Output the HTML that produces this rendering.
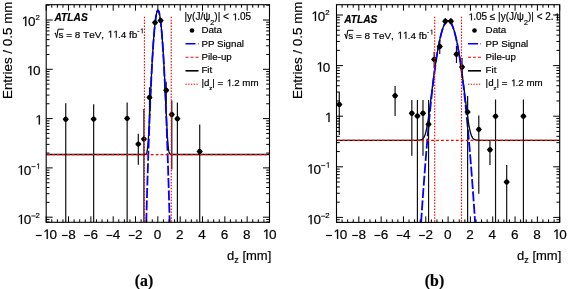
<!DOCTYPE html><html><head><meta charset="utf-8"><style>html,body{margin:0;padding:0;background:#fff;}svg{display:block;will-change:transform;} text{stroke:#000;stroke-width:0.18px;}</style></head><body>
<svg width="568" height="289" viewBox="0 0 568 289" font-family='"Liberation Sans", sans-serif' fill="#000">
<rect width="568" height="289" fill="#fff"/>
<defs><path id="mk" d="M-3.1 0L-1.4-2.2L0-2.75L1.4-2.2L3.1 0L1.4 2.2L0 2.75L-1.4 2.2Z"/></defs>
<clipPath id="cl"><rect x="46.2" y="4.7" width="223.3" height="217.60000000000002"/></clipPath>
<g clip-path="url(#cl)">
<path d="M46.20 154.50L46.34 154.50L46.48 154.50L46.62 154.50L46.76 154.50L46.90 154.50L47.04 154.50L47.18 154.50L47.32 154.50L47.46 154.50L47.60 154.50L47.74 154.50L47.87 154.50L48.01 154.50L48.15 154.50L48.29 154.50L48.43 154.50L48.57 154.50L48.71 154.50L48.85 154.50L48.99 154.50L49.13 154.50L49.27 154.50L49.41 154.50L49.55 154.50L49.69 154.50L49.83 154.50L49.97 154.50L50.11 154.50L50.25 154.50L50.39 154.50L50.53 154.50L50.67 154.50L50.81 154.50L50.95 154.50L51.08 154.50L51.22 154.50L51.36 154.50L51.50 154.50L51.64 154.50L51.78 154.50L51.92 154.50L52.06 154.50L52.20 154.50L52.34 154.50L52.48 154.50L52.62 154.50L52.76 154.50L52.90 154.50L53.04 154.50L53.18 154.50L53.32 154.50L53.46 154.50L53.60 154.50L53.74 154.50L53.88 154.50L54.02 154.50L54.16 154.50L54.29 154.50L54.43 154.50L54.57 154.50L54.71 154.50L54.85 154.50L54.99 154.50L55.13 154.50L55.27 154.50L55.41 154.50L55.55 154.50L55.69 154.50L55.83 154.50L55.97 154.50L56.11 154.50L56.25 154.50L56.39 154.50L56.53 154.50L56.67 154.50L56.81 154.50L56.95 154.50L57.09 154.50L57.23 154.50L57.37 154.50L57.50 154.50L57.64 154.50L57.78 154.50L57.92 154.50L58.06 154.50L58.20 154.50L58.34 154.50L58.48 154.50L58.62 154.50L58.76 154.50L58.90 154.50L59.04 154.50L59.18 154.50L59.32 154.50L59.46 154.50L59.60 154.50L59.74 154.50L59.88 154.50L60.02 154.50L60.16 154.50L60.30 154.50L60.44 154.50L60.57 154.50L60.71 154.50L60.85 154.50L60.99 154.50L61.13 154.50L61.27 154.50L61.41 154.50L61.55 154.50L61.69 154.50L61.83 154.50L61.97 154.50L62.11 154.50L62.25 154.50L62.39 154.50L62.53 154.50L62.67 154.50L62.81 154.50L62.95 154.50L63.09 154.50L63.23 154.50L63.37 154.50L63.51 154.50L63.65 154.50L63.78 154.50L63.92 154.50L64.06 154.50L64.20 154.50L64.34 154.50L64.48 154.50L64.62 154.50L64.76 154.50L64.90 154.50L65.04 154.50L65.18 154.50L65.32 154.50L65.46 154.50L65.60 154.50L65.74 154.50L65.88 154.50L66.02 154.50L66.16 154.50L66.30 154.50L66.44 154.50L66.58 154.50L66.72 154.50L66.86 154.50L66.99 154.50L67.13 154.50L67.27 154.50L67.41 154.50L67.55 154.50L67.69 154.50L67.83 154.50L67.97 154.50L68.11 154.50L68.25 154.50L68.39 154.50L68.53 154.50L68.67 154.50L68.81 154.50L68.95 154.50L69.09 154.50L69.23 154.50L69.37 154.50L69.51 154.50L69.65 154.50L69.79 154.50L69.93 154.50L70.07 154.50L70.20 154.50L70.34 154.50L70.48 154.50L70.62 154.50L70.76 154.50L70.90 154.50L71.04 154.50L71.18 154.50L71.32 154.50L71.46 154.50L71.60 154.50L71.74 154.50L71.88 154.50L72.02 154.50L72.16 154.50L72.30 154.50L72.44 154.50L72.58 154.50L72.72 154.50L72.86 154.50L73.00 154.50L73.14 154.50L73.28 154.50L73.41 154.50L73.55 154.50L73.69 154.50L73.83 154.50L73.97 154.50L74.11 154.50L74.25 154.50L74.39 154.50L74.53 154.50L74.67 154.50L74.81 154.50L74.95 154.50L75.09 154.50L75.23 154.50L75.37 154.50L75.51 154.50L75.65 154.50L75.79 154.50L75.93 154.50L76.07 154.50L76.21 154.50L76.35 154.50L76.49 154.50L76.62 154.50L76.76 154.50L76.90 154.50L77.04 154.50L77.18 154.50L77.32 154.50L77.46 154.50L77.60 154.50L77.74 154.50L77.88 154.50L78.02 154.50L78.16 154.50L78.30 154.50L78.44 154.50L78.58 154.50L78.72 154.50L78.86 154.50L79.00 154.50L79.14 154.50L79.28 154.50L79.42 154.50L79.56 154.50L79.70 154.50L79.83 154.50L79.97 154.50L80.11 154.50L80.25 154.50L80.39 154.50L80.53 154.50L80.67 154.50L80.81 154.50L80.95 154.50L81.09 154.50L81.23 154.50L81.37 154.50L81.51 154.50L81.65 154.50L81.79 154.50L81.93 154.50L82.07 154.50L82.21 154.50L82.35 154.50L82.49 154.50L82.63 154.50L82.77 154.50L82.90 154.50L83.04 154.50L83.18 154.50L83.32 154.50L83.46 154.50L83.60 154.50L83.74 154.50L83.88 154.50L84.02 154.50L84.16 154.50L84.30 154.50L84.44 154.50L84.58 154.50L84.72 154.50L84.86 154.50L85.00 154.50L85.14 154.50L85.28 154.50L85.42 154.50L85.56 154.50L85.70 154.50L85.84 154.50L85.98 154.50L86.11 154.50L86.25 154.50L86.39 154.50L86.53 154.50L86.67 154.50L86.81 154.50L86.95 154.50L87.09 154.50L87.23 154.50L87.37 154.50L87.51 154.50L87.65 154.50L87.79 154.50L87.93 154.50L88.07 154.50L88.21 154.50L88.35 154.50L88.49 154.50L88.63 154.50L88.77 154.50L88.91 154.50L89.05 154.50L89.19 154.50L89.32 154.50L89.46 154.50L89.60 154.50L89.74 154.50L89.88 154.50L90.02 154.50L90.16 154.50L90.30 154.50L90.44 154.50L90.58 154.50L90.72 154.50L90.86 154.50L91.00 154.50L91.14 154.50L91.28 154.50L91.42 154.50L91.56 154.50L91.70 154.50L91.84 154.50L91.98 154.50L92.12 154.50L92.26 154.50L92.40 154.50L92.53 154.50L92.67 154.50L92.81 154.50L92.95 154.50L93.09 154.50L93.23 154.50L93.37 154.50L93.51 154.50L93.65 154.50L93.79 154.50L93.93 154.50L94.07 154.50L94.21 154.50L94.35 154.50L94.49 154.50L94.63 154.50L94.77 154.50L94.91 154.50L95.05 154.50L95.19 154.50L95.33 154.50L95.47 154.50L95.61 154.50L95.74 154.50L95.88 154.50L96.02 154.50L96.16 154.50L96.30 154.50L96.44 154.50L96.58 154.50L96.72 154.50L96.86 154.50L97.00 154.50L97.14 154.50L97.28 154.50L97.42 154.50L97.56 154.50L97.70 154.50L97.84 154.50L97.98 154.50L98.12 154.50L98.26 154.50L98.40 154.50L98.54 154.50L98.68 154.50L98.82 154.50L98.95 154.50L99.09 154.50L99.23 154.50L99.37 154.50L99.51 154.50L99.65 154.50L99.79 154.50L99.93 154.50L100.07 154.50L100.21 154.50L100.35 154.50L100.49 154.50L100.63 154.50L100.77 154.50L100.91 154.50L101.05 154.50L101.19 154.50L101.33 154.50L101.47 154.50L101.61 154.50L101.75 154.50L101.89 154.50L102.03 154.50L102.16 154.50L102.30 154.50L102.44 154.50L102.58 154.50L102.72 154.50L102.86 154.50L103.00 154.50L103.14 154.50L103.28 154.50L103.42 154.50L103.56 154.50L103.70 154.50L103.84 154.50L103.98 154.50L104.12 154.50L104.26 154.50L104.40 154.50L104.54 154.50L104.68 154.50L104.82 154.50L104.96 154.50L105.10 154.50L105.23 154.50L105.37 154.50L105.51 154.50L105.65 154.50L105.79 154.50L105.93 154.50L106.07 154.50L106.21 154.50L106.35 154.50L106.49 154.50L106.63 154.50L106.77 154.50L106.91 154.50L107.05 154.50L107.19 154.50L107.33 154.50L107.47 154.50L107.61 154.50L107.75 154.50L107.89 154.50L108.03 154.50L108.17 154.50L108.31 154.50L108.44 154.50L108.58 154.50L108.72 154.50L108.86 154.50L109.00 154.50L109.14 154.50L109.28 154.50L109.42 154.50L109.56 154.50L109.70 154.50L109.84 154.50L109.98 154.50L110.12 154.50L110.26 154.50L110.40 154.50L110.54 154.50L110.68 154.50L110.82 154.50L110.96 154.50L111.10 154.50L111.24 154.50L111.38 154.50L111.52 154.50L111.65 154.50L111.79 154.50L111.93 154.50L112.07 154.50L112.21 154.50L112.35 154.50L112.49 154.50L112.63 154.50L112.77 154.50L112.91 154.50L113.05 154.50L113.19 154.50L113.33 154.50L113.47 154.50L113.61 154.50L113.75 154.50L113.89 154.50L114.03 154.50L114.17 154.50L114.31 154.50L114.45 154.50L114.59 154.50L114.73 154.50L114.86 154.50L115.00 154.50L115.14 154.50L115.28 154.50L115.42 154.50L115.56 154.50L115.70 154.50L115.84 154.50L115.98 154.50L116.12 154.50L116.26 154.50L116.40 154.50L116.54 154.50L116.68 154.50L116.82 154.50L116.96 154.50L117.10 154.50L117.24 154.50L117.38 154.50L117.52 154.50L117.66 154.50L117.80 154.50L117.94 154.50L118.07 154.50L118.21 154.50L118.35 154.50L118.49 154.50L118.63 154.50L118.77 154.50L118.91 154.50L119.05 154.50L119.19 154.50L119.33 154.50L119.47 154.50L119.61 154.50L119.75 154.50L119.89 154.50L120.03 154.50L120.17 154.50L120.31 154.50L120.45 154.50L120.59 154.50L120.73 154.50L120.87 154.50L121.01 154.50L121.15 154.50L121.28 154.50L121.42 154.50L121.56 154.50L121.70 154.50L121.84 154.50L121.98 154.50L122.12 154.50L122.26 154.50L122.40 154.50L122.54 154.50L122.68 154.50L122.82 154.50L122.96 154.50L123.10 154.50L123.24 154.50L123.38 154.50L123.52 154.50L123.66 154.50L123.80 154.50L123.94 154.50L124.08 154.50L124.22 154.50L124.36 154.50L124.49 154.50L124.63 154.50L124.77 154.50L124.91 154.50L125.05 154.50L125.19 154.50L125.33 154.50L125.47 154.50L125.61 154.50L125.75 154.50L125.89 154.50L126.03 154.50L126.17 154.50L126.31 154.50L126.45 154.50L126.59 154.50L126.73 154.50L126.87 154.50L127.01 154.50L127.15 154.50L127.29 154.50L127.43 154.50L127.56 154.50L127.70 154.50L127.84 154.50L127.98 154.50L128.12 154.50L128.26 154.50L128.40 154.50L128.54 154.50L128.68 154.50L128.82 154.50L128.96 154.50L129.10 154.50L129.24 154.50L129.38 154.50L129.52 154.50L129.66 154.50L129.80 154.50L129.94 154.50L130.08 154.50L130.22 154.50L130.36 154.50L130.50 154.50L130.64 154.50L130.77 154.50L130.91 154.50L131.05 154.50L131.19 154.50L131.33 154.50L131.47 154.50L131.61 154.50L131.75 154.50L131.89 154.50L132.03 154.50L132.17 154.50L132.31 154.50L132.45 154.50L132.59 154.50L132.73 154.50L132.87 154.50L133.01 154.50L133.15 154.50L133.29 154.50L133.43 154.50L133.57 154.50L133.71 154.50L133.85 154.50L133.98 154.50L134.12 154.50L134.26 154.50L134.40 154.50L134.54 154.50L134.68 154.50L134.82 154.50L134.96 154.50L135.10 154.50L135.24 154.50L135.38 154.50L135.52 154.50L135.66 154.50L135.80 154.50L135.94 154.50L136.08 154.50L136.22 154.50L136.36 154.50L136.50 154.50L136.64 154.50L136.78 154.50L136.92 154.50L137.06 154.50L137.19 154.50L137.33 154.50L137.47 154.50L137.61 154.50L137.75 154.50L137.89 154.50L138.03 154.50L138.17 154.50L138.31 154.50L138.45 154.50L138.59 154.50L138.73 154.50L138.87 154.50L139.01 154.50L139.15 154.50L139.29 154.50L139.43 154.50L139.57 154.50L139.71 154.50L139.85 154.50L139.99 154.50L140.13 154.50L140.27 154.50L140.40 154.50L140.54 154.50L140.68 154.50L140.82 154.50L140.96 154.50L141.10 154.50L141.24 154.50L141.38 154.50L141.52 154.50L141.66 154.50L141.80 154.50L141.94 154.50L142.08 154.50L142.22 154.50L142.36 154.50L142.50 154.50L142.64 154.50L142.78 154.50L142.92 154.50L143.06 154.50L143.20 154.50L143.34 154.49L143.48 154.49L143.61 154.49L143.75 154.49L143.89 154.49L144.03 154.48L144.17 154.48L144.31 154.47L144.45 154.46L144.59 154.45L144.73 154.44L144.87 154.42L145.01 154.40L145.15 154.37L145.29 154.33L145.43 154.28L145.57 154.22L145.71 154.14L145.85 154.04L145.99 153.92L146.13 153.77L146.27 153.58L146.41 153.34L146.55 153.05L146.69 152.69L146.82 152.26L146.96 151.74L147.10 151.11L147.24 150.37L147.38 149.49L147.52 148.46L147.66 147.28L147.80 145.92L147.94 144.39L148.08 142.67L148.22 140.78L148.36 138.71L148.50 136.47L148.64 134.08L148.78 131.54L148.92 128.88L149.06 126.12L149.20 123.26L149.34 120.33L149.48 117.35L149.62 114.32L149.76 111.27L149.89 108.20L150.03 105.12L150.17 102.06L150.31 99.00L150.45 95.97L150.59 92.96L150.73 89.99L150.87 87.05L151.01 84.15L151.15 81.29L151.29 78.48L151.43 75.71L151.57 73.00L151.71 70.33L151.85 67.72L151.99 65.16L152.13 62.66L152.27 60.21L152.41 57.82L152.55 55.48L152.69 53.20L152.83 50.98L152.97 48.82L153.10 46.71L153.24 44.66L153.38 42.67L153.52 40.74L153.66 38.87L153.80 37.06L153.94 35.31L154.08 33.61L154.22 31.98L154.36 30.40L154.50 28.89L154.64 27.43L154.78 26.04L154.92 24.70L155.06 23.43L155.20 22.21L155.34 21.05L155.48 19.95L155.62 18.92L155.76 17.94L155.90 17.02L156.04 16.16L156.18 15.37L156.31 14.63L156.45 13.95L156.59 13.33L156.73 12.78L156.87 12.28L157.01 11.84L157.15 11.46L157.29 11.14L157.43 10.89L157.57 10.69L157.71 10.55L157.85 10.47L157.99 10.45L158.13 10.50L158.27 10.60L158.41 10.76L158.55 10.98L158.69 11.26L158.83 11.61L158.97 12.01L159.11 12.47L159.25 12.99L159.39 13.57L159.52 14.22L159.66 14.92L159.80 15.68L159.94 16.50L160.08 17.38L160.22 18.32L160.36 19.33L160.50 20.39L160.64 21.51L160.78 22.69L160.92 23.93L161.06 25.23L161.20 26.59L161.34 28.01L161.48 29.49L161.62 31.03L161.76 32.63L161.90 34.28L162.04 36.00L162.18 37.78L162.32 39.61L162.46 41.51L162.60 43.46L162.73 45.47L162.87 47.55L163.01 49.67L163.15 51.86L163.29 54.11L163.43 56.41L163.57 58.77L163.71 61.18L163.85 63.65L163.99 66.18L164.13 68.76L164.27 71.39L164.41 74.08L164.55 76.81L164.69 79.60L164.83 82.43L164.97 85.30L165.11 88.22L165.25 91.17L165.39 94.16L165.53 97.18L165.67 100.22L165.81 103.28L165.94 106.35L166.08 109.43L166.22 112.49L166.36 115.53L166.50 118.55L166.64 121.51L166.78 124.41L166.92 127.23L167.06 129.96L167.20 132.57L167.34 135.05L167.48 137.38L167.62 139.56L167.76 141.56L167.90 143.38L168.04 145.02L168.18 146.48L168.32 147.77L168.46 148.89L168.60 149.86L168.74 150.68L168.88 151.38L169.02 151.96L169.15 152.44L169.29 152.84L169.43 153.17L169.57 153.44L169.71 153.66L169.85 153.83L169.99 153.97L170.13 154.09L170.27 154.17L170.41 154.25L170.55 154.30L170.69 154.35L170.83 154.38L170.97 154.41L171.11 154.43L171.25 154.44L171.39 154.46L171.53 154.47L171.67 154.47L171.81 154.48L171.95 154.48L172.09 154.49L172.22 154.49L172.36 154.49L172.50 154.49L172.64 154.49L172.78 154.50L172.92 154.50L173.06 154.50L173.20 154.50L173.34 154.50L173.48 154.50L173.62 154.50L173.76 154.50L173.90 154.50L174.04 154.50L174.18 154.50L174.32 154.50L174.46 154.50L174.60 154.50L174.74 154.50L174.88 154.50L175.02 154.50L175.16 154.50L175.30 154.50L175.43 154.50L175.57 154.50L175.71 154.50L175.85 154.50L175.99 154.50L176.13 154.50L176.27 154.50L176.41 154.50L176.55 154.50L176.69 154.50L176.83 154.50L176.97 154.50L177.11 154.50L177.25 154.50L177.39 154.50L177.53 154.50L177.67 154.50L177.81 154.50L177.95 154.50L178.09 154.50L178.23 154.50L178.37 154.50L178.51 154.50L178.64 154.50L178.78 154.50L178.92 154.50L179.06 154.50L179.20 154.50L179.34 154.50L179.48 154.50L179.62 154.50L179.76 154.50L179.90 154.50L180.04 154.50L180.18 154.50L180.32 154.50L180.46 154.50L180.60 154.50L180.74 154.50L180.88 154.50L181.02 154.50L181.16 154.50L181.30 154.50L181.44 154.50L181.58 154.50L181.72 154.50L181.85 154.50L181.99 154.50L182.13 154.50L182.27 154.50L182.41 154.50L182.55 154.50L182.69 154.50L182.83 154.50L182.97 154.50L183.11 154.50L183.25 154.50L183.39 154.50L183.53 154.50L183.67 154.50L183.81 154.50L183.95 154.50L184.09 154.50L184.23 154.50L184.37 154.50L184.51 154.50L184.65 154.50L184.79 154.50L184.93 154.50L185.06 154.50L185.20 154.50L185.34 154.50L185.48 154.50L185.62 154.50L185.76 154.50L185.90 154.50L186.04 154.50L186.18 154.50L186.32 154.50L186.46 154.50L186.60 154.50L186.74 154.50L186.88 154.50L187.02 154.50L187.16 154.50L187.30 154.50L187.44 154.50L187.58 154.50L187.72 154.50L187.86 154.50L188.00 154.50L188.14 154.50L188.27 154.50L188.41 154.50L188.55 154.50L188.69 154.50L188.83 154.50L188.97 154.50L189.11 154.50L189.25 154.50L189.39 154.50L189.53 154.50L189.67 154.50L189.81 154.50L189.95 154.50L190.09 154.50L190.23 154.50L190.37 154.50L190.51 154.50L190.65 154.50L190.79 154.50L190.93 154.50L191.07 154.50L191.21 154.50L191.35 154.50L191.48 154.50L191.62 154.50L191.76 154.50L191.90 154.50L192.04 154.50L192.18 154.50L192.32 154.50L192.46 154.50L192.60 154.50L192.74 154.50L192.88 154.50L193.02 154.50L193.16 154.50L193.30 154.50L193.44 154.50L193.58 154.50L193.72 154.50L193.86 154.50L194.00 154.50L194.14 154.50L194.28 154.50L194.42 154.50L194.55 154.50L194.69 154.50L194.83 154.50L194.97 154.50L195.11 154.50L195.25 154.50L195.39 154.50L195.53 154.50L195.67 154.50L195.81 154.50L195.95 154.50L196.09 154.50L196.23 154.50L196.37 154.50L196.51 154.50L196.65 154.50L196.79 154.50L196.93 154.50L197.07 154.50L197.21 154.50L197.35 154.50L197.49 154.50L197.63 154.50L197.76 154.50L197.90 154.50L198.04 154.50L198.18 154.50L198.32 154.50L198.46 154.50L198.60 154.50L198.74 154.50L198.88 154.50L199.02 154.50L199.16 154.50L199.30 154.50L199.44 154.50L199.58 154.50L199.72 154.50L199.86 154.50L200.00 154.50L200.14 154.50L200.28 154.50L200.42 154.50L200.56 154.50L200.70 154.50L200.84 154.50L200.97 154.50L201.11 154.50L201.25 154.50L201.39 154.50L201.53 154.50L201.67 154.50L201.81 154.50L201.95 154.50L202.09 154.50L202.23 154.50L202.37 154.50L202.51 154.50L202.65 154.50L202.79 154.50L202.93 154.50L203.07 154.50L203.21 154.50L203.35 154.50L203.49 154.50L203.63 154.50L203.77 154.50L203.91 154.50L204.05 154.50L204.18 154.50L204.32 154.50L204.46 154.50L204.60 154.50L204.74 154.50L204.88 154.50L205.02 154.50L205.16 154.50L205.30 154.50L205.44 154.50L205.58 154.50L205.72 154.50L205.86 154.50L206.00 154.50L206.14 154.50L206.28 154.50L206.42 154.50L206.56 154.50L206.70 154.50L206.84 154.50L206.98 154.50L207.12 154.50L207.26 154.50L207.39 154.50L207.53 154.50L207.67 154.50L207.81 154.50L207.95 154.50L208.09 154.50L208.23 154.50L208.37 154.50L208.51 154.50L208.65 154.50L208.79 154.50L208.93 154.50L209.07 154.50L209.21 154.50L209.35 154.50L209.49 154.50L209.63 154.50L209.77 154.50L209.91 154.50L210.05 154.50L210.19 154.50L210.33 154.50L210.47 154.50L210.60 154.50L210.74 154.50L210.88 154.50L211.02 154.50L211.16 154.50L211.30 154.50L211.44 154.50L211.58 154.50L211.72 154.50L211.86 154.50L212.00 154.50L212.14 154.50L212.28 154.50L212.42 154.50L212.56 154.50L212.70 154.50L212.84 154.50L212.98 154.50L213.12 154.50L213.26 154.50L213.40 154.50L213.54 154.50L213.68 154.50L213.81 154.50L213.95 154.50L214.09 154.50L214.23 154.50L214.37 154.50L214.51 154.50L214.65 154.50L214.79 154.50L214.93 154.50L215.07 154.50L215.21 154.50L215.35 154.50L215.49 154.50L215.63 154.50L215.77 154.50L215.91 154.50L216.05 154.50L216.19 154.50L216.33 154.50L216.47 154.50L216.61 154.50L216.75 154.50L216.88 154.50L217.02 154.50L217.16 154.50L217.30 154.50L217.44 154.50L217.58 154.50L217.72 154.50L217.86 154.50L218.00 154.50L218.14 154.50L218.28 154.50L218.42 154.50L218.56 154.50L218.70 154.50L218.84 154.50L218.98 154.50L219.12 154.50L219.26 154.50L219.40 154.50L219.54 154.50L219.68 154.50L219.82 154.50L219.96 154.50L220.09 154.50L220.23 154.50L220.37 154.50L220.51 154.50L220.65 154.50L220.79 154.50L220.93 154.50L221.07 154.50L221.21 154.50L221.35 154.50L221.49 154.50L221.63 154.50L221.77 154.50L221.91 154.50L222.05 154.50L222.19 154.50L222.33 154.50L222.47 154.50L222.61 154.50L222.75 154.50L222.89 154.50L223.03 154.50L223.17 154.50L223.30 154.50L223.44 154.50L223.58 154.50L223.72 154.50L223.86 154.50L224.00 154.50L224.14 154.50L224.28 154.50L224.42 154.50L224.56 154.50L224.70 154.50L224.84 154.50L224.98 154.50L225.12 154.50L225.26 154.50L225.40 154.50L225.54 154.50L225.68 154.50L225.82 154.50L225.96 154.50L226.10 154.50L226.24 154.50L226.38 154.50L226.51 154.50L226.65 154.50L226.79 154.50L226.93 154.50L227.07 154.50L227.21 154.50L227.35 154.50L227.49 154.50L227.63 154.50L227.77 154.50L227.91 154.50L228.05 154.50L228.19 154.50L228.33 154.50L228.47 154.50L228.61 154.50L228.75 154.50L228.89 154.50L229.03 154.50L229.17 154.50L229.31 154.50L229.45 154.50L229.59 154.50L229.72 154.50L229.86 154.50L230.00 154.50L230.14 154.50L230.28 154.50L230.42 154.50L230.56 154.50L230.70 154.50L230.84 154.50L230.98 154.50L231.12 154.50L231.26 154.50L231.40 154.50L231.54 154.50L231.68 154.50L231.82 154.50L231.96 154.50L232.10 154.50L232.24 154.50L232.38 154.50L232.52 154.50L232.66 154.50L232.80 154.50L232.93 154.50L233.07 154.50L233.21 154.50L233.35 154.50L233.49 154.50L233.63 154.50L233.77 154.50L233.91 154.50L234.05 154.50L234.19 154.50L234.33 154.50L234.47 154.50L234.61 154.50L234.75 154.50L234.89 154.50L235.03 154.50L235.17 154.50L235.31 154.50L235.45 154.50L235.59 154.50L235.73 154.50L235.87 154.50L236.00 154.50L236.14 154.50L236.28 154.50L236.42 154.50L236.56 154.50L236.70 154.50L236.84 154.50L236.98 154.50L237.12 154.50L237.26 154.50L237.40 154.50L237.54 154.50L237.68 154.50L237.82 154.50L237.96 154.50L238.10 154.50L238.24 154.50L238.38 154.50L238.52 154.50L238.66 154.50L238.80 154.50L238.94 154.50L239.08 154.50L239.21 154.50L239.35 154.50L239.49 154.50L239.63 154.50L239.77 154.50L239.91 154.50L240.05 154.50L240.19 154.50L240.33 154.50L240.47 154.50L240.61 154.50L240.75 154.50L240.89 154.50L241.03 154.50L241.17 154.50L241.31 154.50L241.45 154.50L241.59 154.50L241.73 154.50L241.87 154.50L242.01 154.50L242.15 154.50L242.29 154.50L242.42 154.50L242.56 154.50L242.70 154.50L242.84 154.50L242.98 154.50L243.12 154.50L243.26 154.50L243.40 154.50L243.54 154.50L243.68 154.50L243.82 154.50L243.96 154.50L244.10 154.50L244.24 154.50L244.38 154.50L244.52 154.50L244.66 154.50L244.80 154.50L244.94 154.50L245.08 154.50L245.22 154.50L245.36 154.50L245.50 154.50L245.63 154.50L245.77 154.50L245.91 154.50L246.05 154.50L246.19 154.50L246.33 154.50L246.47 154.50L246.61 154.50L246.75 154.50L246.89 154.50L247.03 154.50L247.17 154.50L247.31 154.50L247.45 154.50L247.59 154.50L247.73 154.50L247.87 154.50L248.01 154.50L248.15 154.50L248.29 154.50L248.43 154.50L248.57 154.50L248.71 154.50L248.84 154.50L248.98 154.50L249.12 154.50L249.26 154.50L249.40 154.50L249.54 154.50L249.68 154.50L249.82 154.50L249.96 154.50L250.10 154.50L250.24 154.50L250.38 154.50L250.52 154.50L250.66 154.50L250.80 154.50L250.94 154.50L251.08 154.50L251.22 154.50L251.36 154.50L251.50 154.50L251.64 154.50L251.78 154.50L251.92 154.50L252.05 154.50L252.19 154.50L252.33 154.50L252.47 154.50L252.61 154.50L252.75 154.50L252.89 154.50L253.03 154.50L253.17 154.50L253.31 154.50L253.45 154.50L253.59 154.50L253.73 154.50L253.87 154.50L254.01 154.50L254.15 154.50L254.29 154.50L254.43 154.50L254.57 154.50L254.71 154.50L254.85 154.50L254.99 154.50L255.13 154.50L255.26 154.50L255.40 154.50L255.54 154.50L255.68 154.50L255.82 154.50L255.96 154.50L256.10 154.50L256.24 154.50L256.38 154.50L256.52 154.50L256.66 154.50L256.80 154.50L256.94 154.50L257.08 154.50L257.22 154.50L257.36 154.50L257.50 154.50L257.64 154.50L257.78 154.50L257.92 154.50L258.06 154.50L258.20 154.50L258.33 154.50L258.47 154.50L258.61 154.50L258.75 154.50L258.89 154.50L259.03 154.50L259.17 154.50L259.31 154.50L259.45 154.50L259.59 154.50L259.73 154.50L259.87 154.50L260.01 154.50L260.15 154.50L260.29 154.50L260.43 154.50L260.57 154.50L260.71 154.50L260.85 154.50L260.99 154.50L261.13 154.50L261.27 154.50L261.41 154.50L261.54 154.50L261.68 154.50L261.82 154.50L261.96 154.50L262.10 154.50L262.24 154.50L262.38 154.50L262.52 154.50L262.66 154.50L262.80 154.50L262.94 154.50L263.08 154.50L263.22 154.50L263.36 154.50L263.50 154.50L263.64 154.50L263.78 154.50L263.92 154.50L264.06 154.50L264.20 154.50L264.34 154.50L264.48 154.50L264.62 154.50L264.75 154.50L264.89 154.50L265.03 154.50L265.17 154.50L265.31 154.50L265.45 154.50L265.59 154.50L265.73 154.50L265.87 154.50L266.01 154.50L266.15 154.50L266.29 154.50L266.43 154.50L266.57 154.50L266.71 154.50L266.85 154.50L266.99 154.50L267.13 154.50L267.27 154.50L267.41 154.50L267.55 154.50L267.69 154.50L267.83 154.50L267.96 154.50L268.10 154.50L268.24 154.50L268.38 154.50L268.52 154.50L268.66 154.50L268.80 154.50L268.94 154.50L269.08 154.50L269.22 154.50L269.36 154.50L269.50 154.50" stroke="#000" stroke-width="1.3" fill="none"/>
<path d="M145.85 225.30L145.99 225.30L146.13 225.30L146.27 221.38L146.41 216.38L146.55 211.44L146.69 206.55L146.82 201.73L146.96 196.97L147.10 192.26L147.24 187.62L147.38 183.04L147.52 178.51L147.66 174.05L147.80 169.65L147.94 165.31L148.08 161.02L148.22 156.80L148.36 152.64L148.50 148.54L148.64 144.49L148.78 140.51L148.92 136.59L149.06 132.73L149.20 128.92L149.34 125.18L149.48 121.50L149.62 117.88L149.76 114.32L149.89 110.81L150.03 107.37L150.17 103.99L150.31 100.67L150.45 97.41L150.59 94.21L150.73 91.06L150.87 87.98L151.01 84.96L151.15 82.00L151.29 79.10L151.43 76.26L151.57 73.48L151.71 70.76L151.85 68.10L151.99 65.49L152.13 62.95L152.27 60.47L152.41 58.05L152.55 55.69L152.69 53.39L152.83 51.15L152.97 48.97L153.10 46.85L153.24 44.79L153.38 42.79L153.52 40.85L153.66 38.97L153.80 37.15L153.94 35.39L154.08 33.69L154.22 32.05L154.36 30.47L154.50 28.95L154.64 27.49L154.78 26.09L154.92 24.75L155.06 23.47L155.20 22.25L155.34 21.09L155.48 19.99L155.62 18.96L155.76 17.98L155.90 17.06L156.04 16.20L156.18 15.40L156.31 14.66L156.45 13.98L156.59 13.36L156.73 12.80L156.87 12.31L157.01 11.87L157.15 11.49L157.29 11.17L157.43 10.91L157.57 10.71L157.71 10.58L157.85 10.50L157.99 10.48" stroke="#0000ff" stroke-width="1.8" fill="none" stroke-dasharray="10 2.4" stroke-dashoffset="9.60"/>
<path d="M157.99 10.48L158.13 10.52L158.27 10.62L158.41 10.79L158.55 11.01L158.69 11.29L158.83 11.63L158.97 12.04L159.11 12.50L159.25 13.02L159.39 13.60L159.52 14.25L159.66 14.95L159.80 15.71L159.94 16.53L160.08 17.42L160.22 18.36L160.36 19.36L160.50 20.43L160.64 21.55L160.78 22.73L160.92 23.98L161.06 25.28L161.20 26.64L161.34 28.07L161.48 29.55L161.62 31.09L161.76 32.70L161.90 34.36L162.04 36.09L162.18 37.87L162.32 39.71L162.46 41.62L162.60 43.58L162.73 45.61L162.87 47.69L163.01 49.84L163.15 52.04L163.29 54.30L163.43 56.63L163.57 59.01L163.71 61.46L163.85 63.96L163.99 66.53L164.13 69.15L164.27 71.84L164.41 74.58L164.55 77.39L164.69 80.25L164.83 83.18L164.97 86.16L165.11 89.21L165.25 92.31L165.39 95.48L165.53 98.70L165.67 101.99L165.81 105.34L165.94 108.74L166.08 112.21L166.22 115.73L166.36 119.32L166.50 122.97L166.64 126.67L166.78 130.44L166.92 134.26L167.06 138.15L167.20 142.10L167.34 146.10L167.48 150.17L167.62 154.30L167.76 158.48L167.90 162.73L168.04 167.04L168.18 171.40L168.32 175.83L168.46 180.32L168.60 184.86L168.74 189.47L168.88 194.14L169.02 198.86L169.15 203.65L169.29 208.50L169.43 213.41L169.57 218.37L169.71 223.40L169.85 225.30L169.99 225.30" stroke="#0000ff" stroke-width="1.8" fill="none" stroke-dasharray="10 2.4" stroke-dashoffset="5.35"/>
<path d="M65.74 103.30V222.30M93.65 104.20V222.30M127.15 102.50V222.30M138.31 133.80V164.80M143.89 109.00V222.30M149.48 87.30V116.00M155.06 20.40V25.00M160.64 18.50V22.90M166.22 81.80V104.00M171.81 100.50V169.50M177.39 102.50V222.30M199.72 124.60V222.30" stroke="#111" stroke-width="1.2" fill="none"/>
<g fill="#000"><use href="#mk" x="65.74" y="119.30"/><use href="#mk" x="93.65" y="119.10"/><use href="#mk" x="127.15" y="118.40"/><use href="#mk" x="138.31" y="144.10"/><use href="#mk" x="143.89" y="139.10"/><use href="#mk" x="149.48" y="97.40"/><use href="#mk" x="155.06" y="22.60"/><use href="#mk" x="160.64" y="20.60"/><use href="#mk" x="166.22" y="90.20"/><use href="#mk" x="171.81" y="114.50"/><use href="#mk" x="177.39" y="118.70"/><use href="#mk" x="199.72" y="151.50"/></g>
<path d="M46.2 154.50H269.5" stroke="#ff0000" stroke-width="1.25" fill="none" stroke-dasharray="2.8 2.13" stroke-dashoffset="-1"/>
<path d="M144.45 16V222.3" stroke="#ff0000" stroke-width="1.15" fill="none" stroke-dasharray="1.5 1.45" stroke-dashoffset="-0.7"/>
<path d="M171.25 16V222.3" stroke="#ff0000" stroke-width="1.15" fill="none" stroke-dasharray="1.5 1.45" stroke-dashoffset="-0.7"/>
</g>
<clipPath id="cr"><rect x="336.5" y="4.7" width="223.20000000000005" height="217.70000000000002"/></clipPath>
<g clip-path="url(#cr)">
<path d="M336.50 140.30L336.64 140.30L336.78 140.30L336.92 140.30L337.06 140.30L337.20 140.30L337.34 140.30L337.48 140.30L337.62 140.30L337.76 140.30L337.89 140.30L338.03 140.30L338.17 140.30L338.31 140.30L338.45 140.30L338.59 140.30L338.73 140.30L338.87 140.30L339.01 140.30L339.15 140.30L339.29 140.30L339.43 140.30L339.57 140.30L339.71 140.30L339.85 140.30L339.99 140.30L340.13 140.30L340.27 140.30L340.41 140.30L340.55 140.30L340.69 140.30L340.82 140.30L340.96 140.30L341.10 140.30L341.24 140.30L341.38 140.30L341.52 140.30L341.66 140.30L341.80 140.30L341.94 140.30L342.08 140.30L342.22 140.30L342.36 140.30L342.50 140.30L342.64 140.30L342.78 140.30L342.92 140.30L343.06 140.30L343.20 140.30L343.34 140.30L343.48 140.30L343.61 140.30L343.75 140.30L343.89 140.30L344.03 140.30L344.17 140.30L344.31 140.30L344.45 140.30L344.59 140.30L344.73 140.30L344.87 140.30L345.01 140.30L345.15 140.30L345.29 140.30L345.43 140.30L345.57 140.30L345.71 140.30L345.85 140.30L345.99 140.30L346.13 140.30L346.26 140.30L346.40 140.30L346.54 140.30L346.68 140.30L346.82 140.30L346.96 140.30L347.10 140.30L347.24 140.30L347.38 140.30L347.52 140.30L347.66 140.30L347.80 140.30L347.94 140.30L348.08 140.30L348.22 140.30L348.36 140.30L348.50 140.30L348.64 140.30L348.78 140.30L348.92 140.30L349.06 140.30L349.19 140.30L349.33 140.30L349.47 140.30L349.61 140.30L349.75 140.30L349.89 140.30L350.03 140.30L350.17 140.30L350.31 140.30L350.45 140.30L350.59 140.30L350.73 140.30L350.87 140.30L351.01 140.30L351.15 140.30L351.29 140.30L351.43 140.30L351.57 140.30L351.71 140.30L351.85 140.30L351.98 140.30L352.12 140.30L352.26 140.30L352.40 140.30L352.54 140.30L352.68 140.30L352.82 140.30L352.96 140.30L353.10 140.30L353.24 140.30L353.38 140.30L353.52 140.30L353.66 140.30L353.80 140.30L353.94 140.30L354.08 140.30L354.22 140.30L354.36 140.30L354.50 140.30L354.63 140.30L354.77 140.30L354.91 140.30L355.05 140.30L355.19 140.30L355.33 140.30L355.47 140.30L355.61 140.30L355.75 140.30L355.89 140.30L356.03 140.30L356.17 140.30L356.31 140.30L356.45 140.30L356.59 140.30L356.73 140.30L356.87 140.30L357.01 140.30L357.15 140.30L357.29 140.30L357.43 140.30L357.56 140.30L357.70 140.30L357.84 140.30L357.98 140.30L358.12 140.30L358.26 140.30L358.40 140.30L358.54 140.30L358.68 140.30L358.82 140.30L358.96 140.30L359.10 140.30L359.24 140.30L359.38 140.30L359.52 140.30L359.66 140.30L359.80 140.30L359.94 140.30L360.08 140.30L360.22 140.30L360.35 140.30L360.49 140.30L360.63 140.30L360.77 140.30L360.91 140.30L361.05 140.30L361.19 140.30L361.33 140.30L361.47 140.30L361.61 140.30L361.75 140.30L361.89 140.30L362.03 140.30L362.17 140.30L362.31 140.30L362.45 140.30L362.59 140.30L362.73 140.30L362.87 140.30L363.00 140.30L363.14 140.30L363.28 140.30L363.42 140.30L363.56 140.30L363.70 140.30L363.84 140.30L363.98 140.30L364.12 140.30L364.26 140.30L364.40 140.30L364.54 140.30L364.68 140.30L364.82 140.30L364.96 140.30L365.10 140.30L365.24 140.30L365.38 140.30L365.52 140.30L365.66 140.30L365.80 140.30L365.93 140.30L366.07 140.30L366.21 140.30L366.35 140.30L366.49 140.30L366.63 140.30L366.77 140.30L366.91 140.30L367.05 140.30L367.19 140.30L367.33 140.30L367.47 140.30L367.61 140.30L367.75 140.30L367.89 140.30L368.03 140.30L368.17 140.30L368.31 140.30L368.45 140.30L368.59 140.30L368.72 140.30L368.86 140.30L369.00 140.30L369.14 140.30L369.28 140.30L369.42 140.30L369.56 140.30L369.70 140.30L369.84 140.30L369.98 140.30L370.12 140.30L370.26 140.30L370.40 140.30L370.54 140.30L370.68 140.30L370.82 140.30L370.96 140.30L371.10 140.30L371.24 140.30L371.38 140.30L371.51 140.30L371.65 140.30L371.79 140.30L371.93 140.30L372.07 140.30L372.21 140.30L372.35 140.30L372.49 140.30L372.63 140.30L372.77 140.30L372.91 140.30L373.05 140.30L373.19 140.30L373.33 140.30L373.47 140.30L373.61 140.30L373.75 140.30L373.89 140.30L374.03 140.30L374.17 140.30L374.30 140.30L374.44 140.30L374.58 140.30L374.72 140.30L374.86 140.30L375.00 140.30L375.14 140.30L375.28 140.30L375.42 140.30L375.56 140.30L375.70 140.30L375.84 140.30L375.98 140.30L376.12 140.30L376.26 140.30L376.40 140.30L376.54 140.30L376.68 140.30L376.82 140.30L376.95 140.30L377.09 140.30L377.23 140.30L377.37 140.30L377.51 140.30L377.65 140.30L377.79 140.30L377.93 140.30L378.07 140.30L378.21 140.30L378.35 140.30L378.49 140.30L378.63 140.30L378.77 140.30L378.91 140.30L379.05 140.30L379.19 140.30L379.33 140.30L379.47 140.30L379.61 140.30L379.75 140.30L379.88 140.30L380.02 140.30L380.16 140.30L380.30 140.30L380.44 140.30L380.58 140.30L380.72 140.30L380.86 140.30L381.00 140.30L381.14 140.30L381.28 140.30L381.42 140.30L381.56 140.30L381.70 140.30L381.84 140.30L381.98 140.30L382.12 140.30L382.26 140.30L382.40 140.30L382.54 140.30L382.67 140.30L382.81 140.30L382.95 140.30L383.09 140.30L383.23 140.30L383.37 140.30L383.51 140.30L383.65 140.30L383.79 140.30L383.93 140.30L384.07 140.30L384.21 140.30L384.35 140.30L384.49 140.30L384.63 140.30L384.77 140.30L384.91 140.30L385.05 140.30L385.19 140.30L385.32 140.30L385.46 140.30L385.60 140.30L385.74 140.30L385.88 140.30L386.02 140.30L386.16 140.30L386.30 140.30L386.44 140.30L386.58 140.30L386.72 140.30L386.86 140.30L387.00 140.30L387.14 140.30L387.28 140.30L387.42 140.30L387.56 140.30L387.70 140.30L387.84 140.30L387.98 140.30L388.12 140.30L388.25 140.30L388.39 140.30L388.53 140.30L388.67 140.30L388.81 140.30L388.95 140.30L389.09 140.30L389.23 140.30L389.37 140.30L389.51 140.30L389.65 140.30L389.79 140.30L389.93 140.30L390.07 140.30L390.21 140.30L390.35 140.30L390.49 140.30L390.63 140.30L390.77 140.30L390.91 140.30L391.04 140.30L391.18 140.30L391.32 140.30L391.46 140.30L391.60 140.30L391.74 140.30L391.88 140.30L392.02 140.30L392.16 140.30L392.30 140.30L392.44 140.30L392.58 140.30L392.72 140.30L392.86 140.30L393.00 140.30L393.14 140.30L393.28 140.30L393.42 140.30L393.56 140.30L393.69 140.30L393.83 140.30L393.97 140.30L394.11 140.30L394.25 140.30L394.39 140.30L394.53 140.30L394.67 140.30L394.81 140.30L394.95 140.30L395.09 140.30L395.23 140.30L395.37 140.30L395.51 140.30L395.65 140.30L395.79 140.30L395.93 140.30L396.07 140.30L396.21 140.30L396.35 140.30L396.49 140.30L396.62 140.30L396.76 140.30L396.90 140.30L397.04 140.30L397.18 140.30L397.32 140.30L397.46 140.30L397.60 140.30L397.74 140.30L397.88 140.30L398.02 140.30L398.16 140.30L398.30 140.30L398.44 140.30L398.58 140.30L398.72 140.30L398.86 140.30L399.00 140.30L399.14 140.30L399.28 140.30L399.41 140.30L399.55 140.30L399.69 140.30L399.83 140.30L399.97 140.30L400.11 140.30L400.25 140.30L400.39 140.30L400.53 140.30L400.67 140.30L400.81 140.30L400.95 140.30L401.09 140.30L401.23 140.30L401.37 140.30L401.51 140.30L401.65 140.30L401.79 140.30L401.93 140.30L402.06 140.30L402.20 140.30L402.34 140.30L402.48 140.30L402.62 140.30L402.76 140.30L402.90 140.30L403.04 140.30L403.18 140.30L403.32 140.30L403.46 140.30L403.60 140.30L403.74 140.30L403.88 140.30L404.02 140.30L404.16 140.30L404.30 140.30L404.44 140.30L404.58 140.30L404.72 140.30L404.86 140.30L404.99 140.30L405.13 140.30L405.27 140.30L405.41 140.30L405.55 140.30L405.69 140.30L405.83 140.30L405.97 140.30L406.11 140.30L406.25 140.30L406.39 140.30L406.53 140.30L406.67 140.30L406.81 140.30L406.95 140.30L407.09 140.30L407.23 140.30L407.37 140.30L407.51 140.30L407.64 140.30L407.78 140.30L407.92 140.30L408.06 140.30L408.20 140.30L408.34 140.30L408.48 140.30L408.62 140.30L408.76 140.30L408.90 140.30L409.04 140.30L409.18 140.30L409.32 140.30L409.46 140.30L409.60 140.30L409.74 140.30L409.88 140.30L410.02 140.30L410.16 140.30L410.30 140.30L410.44 140.30L410.57 140.30L410.71 140.30L410.85 140.30L410.99 140.30L411.13 140.30L411.27 140.30L411.41 140.30L411.55 140.30L411.69 140.30L411.83 140.30L411.97 140.30L412.11 140.30L412.25 140.30L412.39 140.30L412.53 140.30L412.67 140.30L412.81 140.30L412.95 140.30L413.09 140.30L413.23 140.30L413.36 140.30L413.50 140.30L413.64 140.30L413.78 140.30L413.92 140.30L414.06 140.30L414.20 140.30L414.34 140.30L414.48 140.30L414.62 140.29L414.76 140.29L414.90 140.29L415.04 140.29L415.18 140.29L415.32 140.29L415.46 140.29L415.60 140.29L415.74 140.29L415.88 140.29L416.01 140.29L416.15 140.28L416.29 140.28L416.43 140.28L416.57 140.28L416.71 140.28L416.85 140.27L416.99 140.27L417.13 140.27L417.27 140.27L417.41 140.26L417.55 140.26L417.69 140.25L417.83 140.25L417.97 140.24L418.11 140.24L418.25 140.23L418.39 140.22L418.53 140.21L418.67 140.20L418.81 140.19L418.94 140.18L419.08 140.17L419.22 140.16L419.36 140.14L419.50 140.13L419.64 140.11L419.78 140.09L419.92 140.07L420.06 140.04L420.20 140.02L420.34 139.99L420.48 139.96L420.62 139.92L420.76 139.88L420.90 139.84L421.04 139.80L421.18 139.75L421.32 139.70L421.46 139.64L421.60 139.57L421.73 139.50L421.87 139.43L422.01 139.35L422.15 139.26L422.29 139.16L422.43 139.06L422.57 138.94L422.71 138.82L422.85 138.69L422.99 138.55L423.13 138.39L423.27 138.23L423.41 138.05L423.55 137.86L423.69 137.65L423.83 137.43L423.97 137.19L424.11 136.94L424.25 136.66L424.38 136.38L424.52 136.07L424.66 135.74L424.80 135.39L424.94 135.02L425.08 134.63L425.22 134.21L425.36 133.77L425.50 133.31L425.64 132.82L425.78 132.31L425.92 131.77L426.06 131.21L426.20 130.62L426.34 130.01L426.48 129.37L426.62 128.70L426.76 128.01L426.90 127.29L427.04 126.55L427.18 125.78L427.31 124.99L427.45 124.17L427.59 123.33L427.73 122.47L427.87 121.59L428.01 120.68L428.15 119.76L428.29 118.82L428.43 117.85L428.57 116.88L428.71 115.88L428.85 114.87L428.99 113.85L429.13 112.81L429.27 111.76L429.41 110.70L429.55 109.62L429.69 108.54L429.83 107.45L429.97 106.36L430.10 105.25L430.24 104.15L430.38 103.03L430.52 101.92L430.66 100.80L430.80 99.67L430.94 98.55L431.08 97.42L431.22 96.30L431.36 95.17L431.50 94.05L431.64 92.92L431.78 91.80L431.92 90.68L432.06 89.57L432.20 88.46L432.34 87.35L432.48 86.24L432.62 85.14L432.75 84.05L432.89 82.96L433.03 81.88L433.17 80.80L433.31 79.73L433.45 78.66L433.59 77.61L433.73 76.56L433.87 75.51L434.01 74.48L434.15 73.45L434.29 72.43L434.43 71.42L434.57 70.41L434.71 69.42L434.85 68.43L434.99 67.45L435.13 66.48L435.27 65.52L435.41 64.57L435.55 63.62L435.68 62.69L435.82 61.77L435.96 60.85L436.10 59.95L436.24 59.05L436.38 58.16L436.52 57.28L436.66 56.42L436.80 55.56L436.94 54.71L437.08 53.87L437.22 53.05L437.36 52.23L437.50 51.42L437.64 50.62L437.78 49.83L437.92 49.05L438.06 48.29L438.20 47.53L438.34 46.78L438.47 46.05L438.61 45.32L438.75 44.60L438.89 43.90L439.03 43.20L439.17 42.51L439.31 41.84L439.45 41.17L439.59 40.52L439.73 39.88L439.87 39.24L440.01 38.62L440.15 38.01L440.29 37.40L440.43 36.81L440.57 36.23L440.71 35.66L440.85 35.10L440.99 34.55L441.12 34.01L441.26 33.49L441.40 32.97L441.54 32.46L441.68 31.96L441.82 31.48L441.96 31.00L442.10 30.54L442.24 30.08L442.38 29.64L442.52 29.21L442.66 28.79L442.80 28.37L442.94 27.97L443.08 27.58L443.22 27.20L443.36 26.83L443.50 26.48L443.64 26.13L443.78 25.79L443.92 25.47L444.05 25.15L444.19 24.84L444.33 24.55L444.47 24.27L444.61 23.99L444.75 23.73L444.89 23.48L445.03 23.24L445.17 23.01L445.31 22.79L445.45 22.58L445.59 22.38L445.73 22.20L445.87 22.02L446.01 21.85L446.15 21.70L446.29 21.55L446.43 21.42L446.57 21.30L446.71 21.18L446.84 21.08L446.98 20.99L447.12 20.91L447.26 20.84L447.40 20.78L447.54 20.73L447.68 20.70L447.82 20.67L447.96 20.65L448.10 20.65L448.24 20.65L448.38 20.67L448.52 20.70L448.66 20.73L448.80 20.78L448.94 20.84L449.08 20.91L449.22 20.99L449.36 21.08L449.50 21.18L449.63 21.30L449.77 21.42L449.91 21.55L450.05 21.70L450.19 21.85L450.33 22.02L450.47 22.20L450.61 22.38L450.75 22.58L450.89 22.79L451.03 23.01L451.17 23.24L451.31 23.48L451.45 23.73L451.59 23.99L451.73 24.27L451.87 24.55L452.01 24.84L452.15 25.15L452.29 25.47L452.42 25.79L452.56 26.13L452.70 26.48L452.84 26.83L452.98 27.20L453.12 27.58L453.26 27.97L453.40 28.37L453.54 28.79L453.68 29.21L453.82 29.64L453.96 30.08L454.10 30.54L454.24 31.00L454.38 31.48L454.52 31.96L454.66 32.46L454.80 32.97L454.94 33.49L455.08 34.01L455.21 34.55L455.35 35.10L455.49 35.66L455.63 36.23L455.77 36.81L455.91 37.40L456.05 38.01L456.19 38.62L456.33 39.24L456.47 39.88L456.61 40.52L456.75 41.17L456.89 41.84L457.03 42.51L457.17 43.20L457.31 43.90L457.45 44.60L457.59 45.32L457.73 46.05L457.87 46.78L458.00 47.53L458.14 48.29L458.28 49.05L458.42 49.83L458.56 50.62L458.70 51.42L458.84 52.23L458.98 53.05L459.12 53.87L459.26 54.71L459.40 55.56L459.54 56.42L459.68 57.28L459.82 58.16L459.96 59.05L460.10 59.95L460.24 60.85L460.38 61.77L460.52 62.69L460.66 63.62L460.79 64.57L460.93 65.52L461.07 66.48L461.21 67.45L461.35 68.43L461.49 69.42L461.63 70.41L461.77 71.42L461.91 72.43L462.05 73.45L462.19 74.48L462.33 75.51L462.47 76.56L462.61 77.61L462.75 78.66L462.89 79.73L463.03 80.80L463.17 81.88L463.31 82.96L463.45 84.05L463.58 85.14L463.72 86.24L463.86 87.35L464.00 88.46L464.14 89.57L464.28 90.68L464.42 91.80L464.56 92.92L464.70 94.05L464.84 95.17L464.98 96.30L465.12 97.42L465.26 98.55L465.40 99.67L465.54 100.80L465.68 101.92L465.82 103.03L465.96 104.15L466.10 105.25L466.24 106.36L466.37 107.45L466.51 108.54L466.65 109.62L466.79 110.70L466.93 111.76L467.07 112.81L467.21 113.85L467.35 114.87L467.49 115.88L467.63 116.88L467.77 117.85L467.91 118.82L468.05 119.76L468.19 120.68L468.33 121.59L468.47 122.47L468.61 123.33L468.75 124.17L468.89 124.99L469.03 125.78L469.16 126.55L469.30 127.29L469.44 128.01L469.58 128.70L469.72 129.37L469.86 130.01L470.00 130.62L470.14 131.21L470.28 131.77L470.42 132.31L470.56 132.82L470.70 133.31L470.84 133.77L470.98 134.21L471.12 134.63L471.26 135.02L471.40 135.39L471.54 135.74L471.68 136.07L471.82 136.38L471.95 136.66L472.09 136.94L472.23 137.19L472.37 137.43L472.51 137.65L472.65 137.86L472.79 138.05L472.93 138.23L473.07 138.39L473.21 138.55L473.35 138.69L473.49 138.82L473.63 138.94L473.77 139.06L473.91 139.16L474.05 139.26L474.19 139.35L474.33 139.43L474.47 139.50L474.61 139.57L474.74 139.64L474.88 139.70L475.02 139.75L475.16 139.80L475.30 139.84L475.44 139.88L475.58 139.92L475.72 139.96L475.86 139.99L476.00 140.02L476.14 140.04L476.28 140.07L476.42 140.09L476.56 140.11L476.70 140.13L476.84 140.14L476.98 140.16L477.12 140.17L477.26 140.18L477.40 140.19L477.53 140.20L477.67 140.21L477.81 140.22L477.95 140.23L478.09 140.24L478.23 140.24L478.37 140.25L478.51 140.25L478.65 140.26L478.79 140.26L478.93 140.27L479.07 140.27L479.21 140.27L479.35 140.27L479.49 140.28L479.63 140.28L479.77 140.28L479.91 140.28L480.05 140.28L480.19 140.29L480.32 140.29L480.46 140.29L480.60 140.29L480.74 140.29L480.88 140.29L481.02 140.29L481.16 140.29L481.30 140.29L481.44 140.29L481.58 140.29L481.72 140.30L481.86 140.30L482.00 140.30L482.14 140.30L482.28 140.30L482.42 140.30L482.56 140.30L482.70 140.30L482.84 140.30L482.98 140.30L483.11 140.30L483.25 140.30L483.39 140.30L483.53 140.30L483.67 140.30L483.81 140.30L483.95 140.30L484.09 140.30L484.23 140.30L484.37 140.30L484.51 140.30L484.65 140.30L484.79 140.30L484.93 140.30L485.07 140.30L485.21 140.30L485.35 140.30L485.49 140.30L485.63 140.30L485.77 140.30L485.90 140.30L486.04 140.30L486.18 140.30L486.32 140.30L486.46 140.30L486.60 140.30L486.74 140.30L486.88 140.30L487.02 140.30L487.16 140.30L487.30 140.30L487.44 140.30L487.58 140.30L487.72 140.30L487.86 140.30L488.00 140.30L488.14 140.30L488.28 140.30L488.42 140.30L488.56 140.30L488.69 140.30L488.83 140.30L488.97 140.30L489.11 140.30L489.25 140.30L489.39 140.30L489.53 140.30L489.67 140.30L489.81 140.30L489.95 140.30L490.09 140.30L490.23 140.30L490.37 140.30L490.51 140.30L490.65 140.30L490.79 140.30L490.93 140.30L491.07 140.30L491.21 140.30L491.35 140.30L491.48 140.30L491.62 140.30L491.76 140.30L491.90 140.30L492.04 140.30L492.18 140.30L492.32 140.30L492.46 140.30L492.60 140.30L492.74 140.30L492.88 140.30L493.02 140.30L493.16 140.30L493.30 140.30L493.44 140.30L493.58 140.30L493.72 140.30L493.86 140.30L494.00 140.30L494.14 140.30L494.27 140.30L494.41 140.30L494.55 140.30L494.69 140.30L494.83 140.30L494.97 140.30L495.11 140.30L495.25 140.30L495.39 140.30L495.53 140.30L495.67 140.30L495.81 140.30L495.95 140.30L496.09 140.30L496.23 140.30L496.37 140.30L496.51 140.30L496.65 140.30L496.79 140.30L496.93 140.30L497.06 140.30L497.20 140.30L497.34 140.30L497.48 140.30L497.62 140.30L497.76 140.30L497.90 140.30L498.04 140.30L498.18 140.30L498.32 140.30L498.46 140.30L498.60 140.30L498.74 140.30L498.88 140.30L499.02 140.30L499.16 140.30L499.30 140.30L499.44 140.30L499.58 140.30L499.72 140.30L499.85 140.30L499.99 140.30L500.13 140.30L500.27 140.30L500.41 140.30L500.55 140.30L500.69 140.30L500.83 140.30L500.97 140.30L501.11 140.30L501.25 140.30L501.39 140.30L501.53 140.30L501.67 140.30L501.81 140.30L501.95 140.30L502.09 140.30L502.23 140.30L502.37 140.30L502.51 140.30L502.64 140.30L502.78 140.30L502.92 140.30L503.06 140.30L503.20 140.30L503.34 140.30L503.48 140.30L503.62 140.30L503.76 140.30L503.90 140.30L504.04 140.30L504.18 140.30L504.32 140.30L504.46 140.30L504.60 140.30L504.74 140.30L504.88 140.30L505.02 140.30L505.16 140.30L505.30 140.30L505.43 140.30L505.57 140.30L505.71 140.30L505.85 140.30L505.99 140.30L506.13 140.30L506.27 140.30L506.41 140.30L506.55 140.30L506.69 140.30L506.83 140.30L506.97 140.30L507.11 140.30L507.25 140.30L507.39 140.30L507.53 140.30L507.67 140.30L507.81 140.30L507.95 140.30L508.09 140.30L508.22 140.30L508.36 140.30L508.50 140.30L508.64 140.30L508.78 140.30L508.92 140.30L509.06 140.30L509.20 140.30L509.34 140.30L509.48 140.30L509.62 140.30L509.76 140.30L509.90 140.30L510.04 140.30L510.18 140.30L510.32 140.30L510.46 140.30L510.60 140.30L510.74 140.30L510.88 140.30L511.01 140.30L511.15 140.30L511.29 140.30L511.43 140.30L511.57 140.30L511.71 140.30L511.85 140.30L511.99 140.30L512.13 140.30L512.27 140.30L512.41 140.30L512.55 140.30L512.69 140.30L512.83 140.30L512.97 140.30L513.11 140.30L513.25 140.30L513.39 140.30L513.53 140.30L513.66 140.30L513.80 140.30L513.94 140.30L514.08 140.30L514.22 140.30L514.36 140.30L514.50 140.30L514.64 140.30L514.78 140.30L514.92 140.30L515.06 140.30L515.20 140.30L515.34 140.30L515.48 140.30L515.62 140.30L515.76 140.30L515.90 140.30L516.04 140.30L516.18 140.30L516.32 140.30L516.46 140.30L516.59 140.30L516.73 140.30L516.87 140.30L517.01 140.30L517.15 140.30L517.29 140.30L517.43 140.30L517.57 140.30L517.71 140.30L517.85 140.30L517.99 140.30L518.13 140.30L518.27 140.30L518.41 140.30L518.55 140.30L518.69 140.30L518.83 140.30L518.97 140.30L519.11 140.30L519.25 140.30L519.38 140.30L519.52 140.30L519.66 140.30L519.80 140.30L519.94 140.30L520.08 140.30L520.22 140.30L520.36 140.30L520.50 140.30L520.64 140.30L520.78 140.30L520.92 140.30L521.06 140.30L521.20 140.30L521.34 140.30L521.48 140.30L521.62 140.30L521.76 140.30L521.90 140.30L522.04 140.30L522.17 140.30L522.31 140.30L522.45 140.30L522.59 140.30L522.73 140.30L522.87 140.30L523.01 140.30L523.15 140.30L523.29 140.30L523.43 140.30L523.57 140.30L523.71 140.30L523.85 140.30L523.99 140.30L524.13 140.30L524.27 140.30L524.41 140.30L524.55 140.30L524.69 140.30L524.83 140.30L524.96 140.30L525.10 140.30L525.24 140.30L525.38 140.30L525.52 140.30L525.66 140.30L525.80 140.30L525.94 140.30L526.08 140.30L526.22 140.30L526.36 140.30L526.50 140.30L526.64 140.30L526.78 140.30L526.92 140.30L527.06 140.30L527.20 140.30L527.34 140.30L527.48 140.30L527.62 140.30L527.75 140.30L527.89 140.30L528.03 140.30L528.17 140.30L528.31 140.30L528.45 140.30L528.59 140.30L528.73 140.30L528.87 140.30L529.01 140.30L529.15 140.30L529.29 140.30L529.43 140.30L529.57 140.30L529.71 140.30L529.85 140.30L529.99 140.30L530.13 140.30L530.27 140.30L530.40 140.30L530.54 140.30L530.68 140.30L530.82 140.30L530.96 140.30L531.10 140.30L531.24 140.30L531.38 140.30L531.52 140.30L531.66 140.30L531.80 140.30L531.94 140.30L532.08 140.30L532.22 140.30L532.36 140.30L532.50 140.30L532.64 140.30L532.78 140.30L532.92 140.30L533.06 140.30L533.20 140.30L533.33 140.30L533.47 140.30L533.61 140.30L533.75 140.30L533.89 140.30L534.03 140.30L534.17 140.30L534.31 140.30L534.45 140.30L534.59 140.30L534.73 140.30L534.87 140.30L535.01 140.30L535.15 140.30L535.29 140.30L535.43 140.30L535.57 140.30L535.71 140.30L535.85 140.30L535.99 140.30L536.12 140.30L536.26 140.30L536.40 140.30L536.54 140.30L536.68 140.30L536.82 140.30L536.96 140.30L537.10 140.30L537.24 140.30L537.38 140.30L537.52 140.30L537.66 140.30L537.80 140.30L537.94 140.30L538.08 140.30L538.22 140.30L538.36 140.30L538.50 140.30L538.64 140.30L538.78 140.30L538.91 140.30L539.05 140.30L539.19 140.30L539.33 140.30L539.47 140.30L539.61 140.30L539.75 140.30L539.89 140.30L540.03 140.30L540.17 140.30L540.31 140.30L540.45 140.30L540.59 140.30L540.73 140.30L540.87 140.30L541.01 140.30L541.15 140.30L541.29 140.30L541.43 140.30L541.57 140.30L541.70 140.30L541.84 140.30L541.98 140.30L542.12 140.30L542.26 140.30L542.40 140.30L542.54 140.30L542.68 140.30L542.82 140.30L542.96 140.30L543.10 140.30L543.24 140.30L543.38 140.30L543.52 140.30L543.66 140.30L543.80 140.30L543.94 140.30L544.08 140.30L544.22 140.30L544.36 140.30L544.49 140.30L544.63 140.30L544.77 140.30L544.91 140.30L545.05 140.30L545.19 140.30L545.33 140.30L545.47 140.30L545.61 140.30L545.75 140.30L545.89 140.30L546.03 140.30L546.17 140.30L546.31 140.30L546.45 140.30L546.59 140.30L546.73 140.30L546.87 140.30L547.01 140.30L547.14 140.30L547.28 140.30L547.42 140.30L547.56 140.30L547.70 140.30L547.84 140.30L547.98 140.30L548.12 140.30L548.26 140.30L548.40 140.30L548.54 140.30L548.68 140.30L548.82 140.30L548.96 140.30L549.10 140.30L549.24 140.30L549.38 140.30L549.52 140.30L549.66 140.30L549.80 140.30L549.94 140.30L550.07 140.30L550.21 140.30L550.35 140.30L550.49 140.30L550.63 140.30L550.77 140.30L550.91 140.30L551.05 140.30L551.19 140.30L551.33 140.30L551.47 140.30L551.61 140.30L551.75 140.30L551.89 140.30L552.03 140.30L552.17 140.30L552.31 140.30L552.45 140.30L552.59 140.30L552.73 140.30L552.86 140.30L553.00 140.30L553.14 140.30L553.28 140.30L553.42 140.30L553.56 140.30L553.70 140.30L553.84 140.30L553.98 140.30L554.12 140.30L554.26 140.30L554.40 140.30L554.54 140.30L554.68 140.30L554.82 140.30L554.96 140.30L555.10 140.30L555.24 140.30L555.38 140.30L555.52 140.30L555.65 140.30L555.79 140.30L555.93 140.30L556.07 140.30L556.21 140.30L556.35 140.30L556.49 140.30L556.63 140.30L556.77 140.30L556.91 140.30L557.05 140.30L557.19 140.30L557.33 140.30L557.47 140.30L557.61 140.30L557.75 140.30L557.89 140.30L558.03 140.30L558.17 140.30L558.31 140.30L558.44 140.30L558.58 140.30L558.72 140.30L558.86 140.30L559.00 140.30L559.14 140.30L559.28 140.30L559.42 140.30L559.56 140.30L559.70 140.30" stroke="#000" stroke-width="1.3" fill="none"/>
<path d="M420.20 225.40L420.34 225.40L420.48 225.40L420.62 225.40L420.76 225.40L420.90 225.25L421.04 223.15L421.18 221.07L421.32 219.00L421.46 216.94L421.60 214.89L421.73 212.85L421.87 210.83L422.01 208.81L422.15 206.80L422.29 204.81L422.43 202.82L422.57 200.85L422.71 198.89L422.85 196.94L422.99 194.99L423.13 193.06L423.27 191.14L423.41 189.23L423.55 187.34L423.69 185.45L423.83 183.57L423.97 181.70L424.11 179.85L424.25 178.00L424.38 176.17L424.52 174.35L424.66 172.53L424.80 170.73L424.94 168.94L425.08 167.16L425.22 165.39L425.36 163.63L425.50 161.89L425.64 160.15L425.78 158.42L425.92 156.71L426.06 155.00L426.20 153.31L426.34 151.62L426.48 149.95L426.62 148.29L426.76 146.64L426.90 145.00L427.04 143.37L427.18 141.75L427.31 140.14L427.45 138.55L427.59 136.96L427.73 135.38L427.87 133.82L428.01 132.26L428.15 130.72L428.29 129.19L428.43 127.67L428.57 126.15L428.71 124.65L428.85 123.16L428.99 121.68L429.13 120.22L429.27 118.76L429.41 117.31L429.55 115.88L429.69 114.45L429.83 113.04L429.97 111.63L430.10 110.24L430.24 108.86L430.38 107.49L430.52 106.13L430.66 104.78L430.80 103.44L430.94 102.11L431.08 100.79L431.22 99.48L431.36 98.19L431.50 96.90L431.64 95.63L431.78 94.36L431.92 93.11L432.06 91.87L432.20 90.64L432.34 89.42L432.48 88.21L432.62 87.01L432.75 85.82L432.89 84.64L433.03 83.47L433.17 82.32L433.31 81.17L433.45 80.04L433.59 78.91L433.73 77.80L433.87 76.70L434.01 75.61L434.15 74.52L434.29 73.45L434.43 72.39L434.57 71.35L434.71 70.31L434.85 69.28L434.99 68.26L435.13 67.26L435.27 66.26L435.41 65.28L435.55 64.31L435.68 63.34L435.82 62.39L435.96 61.45L436.10 60.52L436.24 59.60L436.38 58.69L436.52 57.79L436.66 56.91L436.80 56.03L436.94 55.16L437.08 54.31L437.22 53.46L437.36 52.63L437.50 51.81L437.64 51.00L437.78 50.19L437.92 49.40L438.06 48.62L438.20 47.85L438.34 47.10L438.47 46.35L438.61 45.61L438.75 44.89L438.89 44.17L439.03 43.47L439.17 42.77L439.31 42.09L439.45 41.42L439.59 40.76L439.73 40.10L439.87 39.46L440.01 38.84L440.15 38.22L440.29 37.61L440.43 37.01L440.57 36.43L440.71 35.85L440.85 35.29L440.99 34.73L441.12 34.19L441.26 33.66L441.40 33.13L441.54 32.62L441.68 32.12L441.82 31.63L441.96 31.16L442.10 30.69L442.24 30.23L442.38 29.78L442.52 29.35L442.66 28.92L442.80 28.51L442.94 28.11L443.08 27.71L443.22 27.33L443.36 26.96L443.50 26.60L443.64 26.25L443.78 25.91L443.92 25.58L444.05 25.27L444.19 24.96L444.33 24.66L444.47 24.38L444.61 24.10L444.75 23.84L444.89 23.59L445.03 23.35L445.17 23.12L445.31 22.89L445.45 22.69L445.59 22.49L445.73 22.30L445.87 22.12L446.01 21.95L446.15 21.80L446.29 21.65L446.43 21.52L446.57 21.39L446.71 21.28L446.84 21.18L446.98 21.09L447.12 21.01L447.26 20.94L447.40 20.88L447.54 20.83L447.68 20.79L447.82 20.77L447.96 20.75L448.10 20.74" stroke="#0000ff" stroke-width="1.8" fill="none" stroke-dasharray="10 2.4" stroke-dashoffset="9.16"/>
<path d="M448.10 20.74L448.24 20.75L448.38 20.77L448.52 20.79L448.66 20.83L448.80 20.88L448.94 20.94L449.08 21.01L449.22 21.09L449.36 21.18L449.50 21.28L449.63 21.39L449.77 21.52L449.91 21.65L450.05 21.80L450.19 21.95L450.33 22.12L450.47 22.30L450.61 22.49L450.75 22.69L450.89 22.89L451.03 23.12L451.17 23.35L451.31 23.59L451.45 23.84L451.59 24.10L451.73 24.38L451.87 24.66L452.01 24.96L452.15 25.27L452.29 25.58L452.42 25.91L452.56 26.25L452.70 26.60L452.84 26.96L452.98 27.33L453.12 27.71L453.26 28.11L453.40 28.51L453.54 28.92L453.68 29.35L453.82 29.78L453.96 30.23L454.10 30.69L454.24 31.16L454.38 31.63L454.52 32.12L454.66 32.62L454.80 33.13L454.94 33.66L455.08 34.19L455.21 34.73L455.35 35.29L455.49 35.85L455.63 36.43L455.77 37.01L455.91 37.61L456.05 38.22L456.19 38.84L456.33 39.46L456.47 40.10L456.61 40.76L456.75 41.42L456.89 42.09L457.03 42.77L457.17 43.47L457.31 44.17L457.45 44.89L457.59 45.61L457.73 46.35L457.87 47.10L458.00 47.85L458.14 48.62L458.28 49.40L458.42 50.19L458.56 51.00L458.70 51.81L458.84 52.63L458.98 53.46L459.12 54.31L459.26 55.16L459.40 56.03L459.54 56.91L459.68 57.79L459.82 58.69L459.96 59.60L460.10 60.52L460.24 61.45L460.38 62.39L460.52 63.34L460.66 64.31L460.79 65.28L460.93 66.26L461.07 67.26L461.21 68.26L461.35 69.28L461.49 70.31L461.63 71.35L461.77 72.39L461.91 73.45L462.05 74.52L462.19 75.61L462.33 76.70L462.47 77.80L462.61 78.91L462.75 80.04L462.89 81.17L463.03 82.32L463.17 83.47L463.31 84.64L463.45 85.82L463.58 87.01L463.72 88.21L463.86 89.42L464.00 90.64L464.14 91.87L464.28 93.11L464.42 94.36L464.56 95.63L464.70 96.90L464.84 98.19L464.98 99.48L465.12 100.79L465.26 102.11L465.40 103.44L465.54 104.78L465.68 106.13L465.82 107.49L465.96 108.86L466.10 110.24L466.24 111.63L466.37 113.04L466.51 114.45L466.65 115.88L466.79 117.31L466.93 118.76L467.07 120.22L467.21 121.68L467.35 123.16L467.49 124.65L467.63 126.15L467.77 127.67L467.91 129.19L468.05 130.72L468.19 132.26L468.33 133.82L468.47 135.38L468.61 136.96L468.75 138.55L468.89 140.14L469.03 141.75L469.16 143.37L469.30 145.00L469.44 146.64L469.58 148.29L469.72 149.95L469.86 151.62L470.00 153.31L470.14 155.00L470.28 156.71L470.42 158.42L470.56 160.15L470.70 161.89L470.84 163.63L470.98 165.39L471.12 167.16L471.26 168.94L471.40 170.73L471.54 172.53L471.68 174.35L471.82 176.17L471.95 178.00L472.09 179.85L472.23 181.70L472.37 183.57L472.51 185.45L472.65 187.34L472.79 189.23L472.93 191.14L473.07 193.06L473.21 194.99L473.35 196.94L473.49 198.89L473.63 200.85L473.77 202.82L473.91 204.81L474.05 206.80L474.19 208.81L474.33 210.83L474.47 212.85L474.61 214.89L474.74 216.94L474.88 219.00L475.02 221.07L475.16 223.15L475.30 225.25L475.44 225.40L475.58 225.40L475.72 225.40L475.86 225.40L476.00 225.40" stroke="#0000ff" stroke-width="1.8" fill="none" stroke-dasharray="10 2.4" stroke-dashoffset="11.87"/>
<path d="M339.29 92.20V135.00M395.09 86.10V116.00M411.83 100.00V155.70M417.41 100.00V222.40M422.99 100.00V155.70M428.57 100.00V222.40M434.15 52.00V68.00M439.73 40.00V54.00M445.31 18.00V24.50M450.89 18.00V24.50M456.47 46.00V63.00M462.05 58.00V78.00M467.63 96.00V222.40M478.79 115.60V193.80M489.95 140.80V165.00M495.53 99.40V222.40M506.69 165.00V222.40M523.43 99.40V222.40" stroke="#111" stroke-width="1.2" fill="none"/>
<g fill="#000"><use href="#mk" x="339.29" y="104.50"/><use href="#mk" x="395.09" y="95.80"/><use href="#mk" x="411.83" y="113.20"/><use href="#mk" x="417.41" y="116.00"/><use href="#mk" x="422.99" y="113.20"/><use href="#mk" x="428.57" y="124.30"/><use href="#mk" x="434.15" y="59.40"/><use href="#mk" x="439.73" y="46.50"/><use href="#mk" x="445.31" y="21.20"/><use href="#mk" x="450.89" y="21.20"/><use href="#mk" x="456.47" y="54.20"/><use href="#mk" x="462.05" y="67.00"/><use href="#mk" x="467.63" y="111.90"/><use href="#mk" x="478.79" y="129.40"/><use href="#mk" x="489.95" y="149.70"/><use href="#mk" x="495.53" y="116.20"/><use href="#mk" x="506.69" y="182.00"/><use href="#mk" x="523.43" y="116.20"/></g>
<path d="M336.5 140.30H559.7" stroke="#ff0000" stroke-width="1.25" fill="none" stroke-dasharray="2.8 2.13" stroke-dashoffset="-1"/>
<path d="M434.71 16V222.4" stroke="#ff0000" stroke-width="1.15" fill="none" stroke-dasharray="1.5 1.45" stroke-dashoffset="-0.7"/>
<path d="M461.49 16V222.4" stroke="#ff0000" stroke-width="1.15" fill="none" stroke-dasharray="1.5 1.45" stroke-dashoffset="-0.7"/>
</g>
<rect x="46.2" y="4.7" width="223.30" height="217.60" fill="none" stroke="#000" stroke-width="1.1"/>
<path d="M46.20 222.30v-6M46.20 4.70v6M51.78 222.30v-3M51.78 4.70v3M57.37 222.30v-3M57.37 4.70v3M62.95 222.30v-3M62.95 4.70v3M68.53 222.30v-6M68.53 4.70v6M74.11 222.30v-3M74.11 4.70v3M79.70 222.30v-3M79.70 4.70v3M85.28 222.30v-3M85.28 4.70v3M90.86 222.30v-6M90.86 4.70v6M96.44 222.30v-3M96.44 4.70v3M102.03 222.30v-3M102.03 4.70v3M107.61 222.30v-3M107.61 4.70v3M113.19 222.30v-6M113.19 4.70v6M118.77 222.30v-3M118.77 4.70v3M124.36 222.30v-3M124.36 4.70v3M129.94 222.30v-3M129.94 4.70v3M135.52 222.30v-6M135.52 4.70v6M141.10 222.30v-3M141.10 4.70v3M146.69 222.30v-3M146.69 4.70v3M152.27 222.30v-3M152.27 4.70v3M157.85 222.30v-6M157.85 4.70v6M163.43 222.30v-3M163.43 4.70v3M169.02 222.30v-3M169.02 4.70v3M174.60 222.30v-3M174.60 4.70v3M180.18 222.30v-6M180.18 4.70v6M185.76 222.30v-3M185.76 4.70v3M191.35 222.30v-3M191.35 4.70v3M196.93 222.30v-3M196.93 4.70v3M202.51 222.30v-6M202.51 4.70v6M208.09 222.30v-3M208.09 4.70v3M213.68 222.30v-3M213.68 4.70v3M219.26 222.30v-3M219.26 4.70v3M224.84 222.30v-6M224.84 4.70v6M230.42 222.30v-3M230.42 4.70v3M236.00 222.30v-3M236.00 4.70v3M241.59 222.30v-3M241.59 4.70v3M247.17 222.30v-6M247.17 4.70v6M252.75 222.30v-3M252.75 4.70v3M258.33 222.30v-3M258.33 4.70v3M263.92 222.30v-3M263.92 4.70v3M269.50 222.30v-6M269.50 4.70v6M46.20 221.98h3.3M269.50 221.98h-3.3M46.20 219.46h3.3M269.50 219.46h-3.3M46.20 217.20h6.5M269.50 217.20h-6.5M46.20 202.36h3.3M269.50 202.36h-3.3M46.20 193.68h3.3M269.50 193.68h-3.3M46.20 187.52h3.3M269.50 187.52h-3.3M46.20 182.74h3.3M269.50 182.74h-3.3M46.20 178.84h3.3M269.50 178.84h-3.3M46.20 175.54h3.3M269.50 175.54h-3.3M46.20 172.68h3.3M269.50 172.68h-3.3M46.20 170.16h3.3M269.50 170.16h-3.3M46.20 167.90h6.5M269.50 167.90h-6.5M46.20 153.06h3.3M269.50 153.06h-3.3M46.20 144.38h3.3M269.50 144.38h-3.3M46.20 138.22h3.3M269.50 138.22h-3.3M46.20 133.44h3.3M269.50 133.44h-3.3M46.20 129.54h3.3M269.50 129.54h-3.3M46.20 126.24h3.3M269.50 126.24h-3.3M46.20 123.38h3.3M269.50 123.38h-3.3M46.20 120.86h3.3M269.50 120.86h-3.3M46.20 118.60h6.5M269.50 118.60h-6.5M46.20 103.76h3.3M269.50 103.76h-3.3M46.20 95.08h3.3M269.50 95.08h-3.3M46.20 88.92h3.3M269.50 88.92h-3.3M46.20 84.14h3.3M269.50 84.14h-3.3M46.20 80.24h3.3M269.50 80.24h-3.3M46.20 76.94h3.3M269.50 76.94h-3.3M46.20 74.08h3.3M269.50 74.08h-3.3M46.20 71.56h3.3M269.50 71.56h-3.3M46.20 69.30h6.5M269.50 69.30h-6.5M46.20 54.46h3.3M269.50 54.46h-3.3M46.20 45.78h3.3M269.50 45.78h-3.3M46.20 39.62h3.3M269.50 39.62h-3.3M46.20 34.84h3.3M269.50 34.84h-3.3M46.20 30.94h3.3M269.50 30.94h-3.3M46.20 27.64h3.3M269.50 27.64h-3.3M46.20 24.78h3.3M269.50 24.78h-3.3M46.20 22.26h3.3M269.50 22.26h-3.3M46.20 20.00h6.5M269.50 20.00h-6.5M46.20 5.16h3.3M269.50 5.16h-3.3" stroke="#000" stroke-width="1" fill="none"/>
<rect x="336.5" y="4.7" width="223.20" height="217.70" fill="none" stroke="#000" stroke-width="1.1"/>
<path d="M336.50 222.40v-6M336.50 4.70v6M342.08 222.40v-3M342.08 4.70v3M347.66 222.40v-3M347.66 4.70v3M353.24 222.40v-3M353.24 4.70v3M358.82 222.40v-6M358.82 4.70v6M364.40 222.40v-3M364.40 4.70v3M369.98 222.40v-3M369.98 4.70v3M375.56 222.40v-3M375.56 4.70v3M381.14 222.40v-6M381.14 4.70v6M386.72 222.40v-3M386.72 4.70v3M392.30 222.40v-3M392.30 4.70v3M397.88 222.40v-3M397.88 4.70v3M403.46 222.40v-6M403.46 4.70v6M409.04 222.40v-3M409.04 4.70v3M414.62 222.40v-3M414.62 4.70v3M420.20 222.40v-3M420.20 4.70v3M425.78 222.40v-6M425.78 4.70v6M431.36 222.40v-3M431.36 4.70v3M436.94 222.40v-3M436.94 4.70v3M442.52 222.40v-3M442.52 4.70v3M448.10 222.40v-6M448.10 4.70v6M453.68 222.40v-3M453.68 4.70v3M459.26 222.40v-3M459.26 4.70v3M464.84 222.40v-3M464.84 4.70v3M470.42 222.40v-6M470.42 4.70v6M476.00 222.40v-3M476.00 4.70v3M481.58 222.40v-3M481.58 4.70v3M487.16 222.40v-3M487.16 4.70v3M492.74 222.40v-6M492.74 4.70v6M498.32 222.40v-3M498.32 4.70v3M503.90 222.40v-3M503.90 4.70v3M509.48 222.40v-3M509.48 4.70v3M515.06 222.40v-6M515.06 4.70v6M520.64 222.40v-3M520.64 4.70v3M526.22 222.40v-3M526.22 4.70v3M531.80 222.40v-3M531.80 4.70v3M537.38 222.40v-6M537.38 4.70v6M542.96 222.40v-3M542.96 4.70v3M548.54 222.40v-3M548.54 4.70v3M554.12 222.40v-3M554.12 4.70v3M559.70 222.40v-6M559.70 4.70v6M336.50 222.30h3.3M559.70 222.30h-3.3M336.50 219.72h3.3M559.70 219.72h-3.3M336.50 217.40h6.5M559.70 217.40h-6.5M336.50 202.17h3.3M559.70 202.17h-3.3M336.50 193.26h3.3M559.70 193.26h-3.3M336.50 186.94h3.3M559.70 186.94h-3.3M336.50 182.03h3.3M559.70 182.03h-3.3M336.50 178.03h3.3M559.70 178.03h-3.3M336.50 174.64h3.3M559.70 174.64h-3.3M336.50 171.70h3.3M559.70 171.70h-3.3M336.50 169.12h3.3M559.70 169.12h-3.3M336.50 166.80h6.5M559.70 166.80h-6.5M336.50 151.57h3.3M559.70 151.57h-3.3M336.50 142.66h3.3M559.70 142.66h-3.3M336.50 136.34h3.3M559.70 136.34h-3.3M336.50 131.43h3.3M559.70 131.43h-3.3M336.50 127.43h3.3M559.70 127.43h-3.3M336.50 124.04h3.3M559.70 124.04h-3.3M336.50 121.10h3.3M559.70 121.10h-3.3M336.50 118.52h3.3M559.70 118.52h-3.3M336.50 116.20h6.5M559.70 116.20h-6.5M336.50 100.97h3.3M559.70 100.97h-3.3M336.50 92.06h3.3M559.70 92.06h-3.3M336.50 85.74h3.3M559.70 85.74h-3.3M336.50 80.83h3.3M559.70 80.83h-3.3M336.50 76.83h3.3M559.70 76.83h-3.3M336.50 73.44h3.3M559.70 73.44h-3.3M336.50 70.50h3.3M559.70 70.50h-3.3M336.50 67.92h3.3M559.70 67.92h-3.3M336.50 65.60h6.5M559.70 65.60h-6.5M336.50 50.37h3.3M559.70 50.37h-3.3M336.50 41.46h3.3M559.70 41.46h-3.3M336.50 35.14h3.3M559.70 35.14h-3.3M336.50 30.23h3.3M559.70 30.23h-3.3M336.50 26.23h3.3M559.70 26.23h-3.3M336.50 22.84h3.3M559.70 22.84h-3.3M336.50 19.90h3.3M559.70 19.90h-3.3M336.50 17.32h3.3M559.70 17.32h-3.3M336.50 15.00h6.5M559.70 15.00h-6.5" stroke="#000" stroke-width="1" fill="none"/>
<path transform="translate(34.54,238.90) scale(0.006592,-0.006592)" d="M200 445V592H1060V445Z" stroke="#000" stroke-width="0.18" vector-effect="non-scaling-stroke"/><path transform="translate(42.05,238.90) scale(0.006592,-0.006592)" d="M700 0V1237L382 1010V1180L715 1409H881V0Z" stroke="#000" stroke-width="0.18" vector-effect="non-scaling-stroke"/><text x="49.55" y="238.90" font-size="13.5">0</text>
<path transform="translate(60.62,238.90) scale(0.006592,-0.006592)" d="M200 445V592H1060V445Z" stroke="#000" stroke-width="0.18" vector-effect="non-scaling-stroke"/><text x="68.13" y="238.90" font-size="13.5">8</text>
<path transform="translate(82.95,238.90) scale(0.006592,-0.006592)" d="M200 445V592H1060V445Z" stroke="#000" stroke-width="0.18" vector-effect="non-scaling-stroke"/><text x="90.46" y="238.90" font-size="13.5">6</text>
<path transform="translate(105.28,238.90) scale(0.006592,-0.006592)" d="M200 445V592H1060V445Z" stroke="#000" stroke-width="0.18" vector-effect="non-scaling-stroke"/><text x="112.79" y="238.90" font-size="13.5">4</text>
<path transform="translate(127.61,238.90) scale(0.006592,-0.006592)" d="M200 445V592H1060V445Z" stroke="#000" stroke-width="0.18" vector-effect="non-scaling-stroke"/><text x="135.12" y="238.90" font-size="13.5">2</text>
<text x="153.70" y="238.90" font-size="13.5">0</text>
<text x="176.03" y="238.90" font-size="13.5">2</text>
<text x="198.36" y="238.90" font-size="13.5">4</text>
<text x="220.69" y="238.90" font-size="13.5">6</text>
<text x="243.02" y="238.90" font-size="13.5">8</text>
<path transform="translate(261.59,238.90) scale(0.006592,-0.006592)" d="M700 0V1237L382 1010V1180L715 1409H881V0Z" stroke="#000" stroke-width="0.18" vector-effect="non-scaling-stroke"/><text x="269.10" y="238.90" font-size="13.5">0</text>
<path transform="translate(16.21,224.00) scale(0.006592,-0.006592)" d="M700 0V1237L382 1010V1180L715 1409H881V0Z" stroke="#000" stroke-width="0.18" vector-effect="non-scaling-stroke"/><text x="23.72" y="224.00" font-size="13.5">0</text><path transform="translate(31.22,218.10) scale(0.003809,-0.003809)" d="M80 470V640H1110V470Z" stroke="#000" stroke-width="0.18" vector-effect="non-scaling-stroke"/><text x="35.56" y="218.10" font-size="7.8">2</text>
<path transform="translate(16.21,174.70) scale(0.006592,-0.006592)" d="M700 0V1237L382 1010V1180L715 1409H881V0Z" stroke="#000" stroke-width="0.18" vector-effect="non-scaling-stroke"/><text x="23.72" y="174.70" font-size="13.5">0</text><path transform="translate(31.22,168.80) scale(0.003809,-0.003809)" d="M80 470V640H1110V470Z" stroke="#000" stroke-width="0.18" vector-effect="non-scaling-stroke"/><path transform="translate(35.56,168.80) scale(0.003809,-0.003809)" d="M700 0V1237L382 1010V1180L715 1409H881V0Z" stroke="#000" stroke-width="0.18" vector-effect="non-scaling-stroke"/>
<path transform="translate(34.09,124.50) scale(0.006592,-0.006592)" d="M700 0V1237L382 1010V1180L715 1409H881V0Z" stroke="#000" stroke-width="0.18" vector-effect="non-scaling-stroke"/>
<path transform="translate(25.58,75.20) scale(0.006592,-0.006592)" d="M700 0V1237L382 1010V1180L715 1409H881V0Z" stroke="#000" stroke-width="0.18" vector-effect="non-scaling-stroke"/><text x="33.09" y="75.20" font-size="13.5">0</text>
<path transform="translate(20.55,25.90) scale(0.006592,-0.006592)" d="M700 0V1237L382 1010V1180L715 1409H881V0Z" stroke="#000" stroke-width="0.18" vector-effect="non-scaling-stroke"/><text x="28.05" y="25.90" font-size="13.5">0</text><text x="35.56" y="20.00" font-size="7.8">2</text>
<path transform="translate(324.84,238.90) scale(0.006592,-0.006592)" d="M200 445V592H1060V445Z" stroke="#000" stroke-width="0.18" vector-effect="non-scaling-stroke"/><path transform="translate(332.35,238.90) scale(0.006592,-0.006592)" d="M700 0V1237L382 1010V1180L715 1409H881V0Z" stroke="#000" stroke-width="0.18" vector-effect="non-scaling-stroke"/><text x="339.85" y="238.90" font-size="13.5">0</text>
<path transform="translate(350.91,238.90) scale(0.006592,-0.006592)" d="M200 445V592H1060V445Z" stroke="#000" stroke-width="0.18" vector-effect="non-scaling-stroke"/><text x="358.42" y="238.90" font-size="13.5">8</text>
<path transform="translate(373.23,238.90) scale(0.006592,-0.006592)" d="M200 445V592H1060V445Z" stroke="#000" stroke-width="0.18" vector-effect="non-scaling-stroke"/><text x="380.74" y="238.90" font-size="13.5">6</text>
<path transform="translate(395.55,238.90) scale(0.006592,-0.006592)" d="M200 445V592H1060V445Z" stroke="#000" stroke-width="0.18" vector-effect="non-scaling-stroke"/><text x="403.06" y="238.90" font-size="13.5">4</text>
<path transform="translate(417.87,238.90) scale(0.006592,-0.006592)" d="M200 445V592H1060V445Z" stroke="#000" stroke-width="0.18" vector-effect="non-scaling-stroke"/><text x="425.38" y="238.90" font-size="13.5">2</text>
<text x="443.95" y="238.90" font-size="13.5">0</text>
<text x="466.27" y="238.90" font-size="13.5">2</text>
<text x="488.59" y="238.90" font-size="13.5">4</text>
<text x="510.91" y="238.90" font-size="13.5">6</text>
<text x="533.23" y="238.90" font-size="13.5">8</text>
<path transform="translate(551.79,238.90) scale(0.006592,-0.006592)" d="M700 0V1237L382 1010V1180L715 1409H881V0Z" stroke="#000" stroke-width="0.18" vector-effect="non-scaling-stroke"/><text x="559.30" y="238.90" font-size="13.5">0</text>
<path transform="translate(305.91,224.20) scale(0.006592,-0.006592)" d="M700 0V1237L382 1010V1180L715 1409H881V0Z" stroke="#000" stroke-width="0.18" vector-effect="non-scaling-stroke"/><text x="313.42" y="224.20" font-size="13.5">0</text><path transform="translate(320.92,218.30) scale(0.003809,-0.003809)" d="M80 470V640H1110V470Z" stroke="#000" stroke-width="0.18" vector-effect="non-scaling-stroke"/><text x="325.26" y="218.30" font-size="7.8">2</text>
<path transform="translate(305.91,173.60) scale(0.006592,-0.006592)" d="M700 0V1237L382 1010V1180L715 1409H881V0Z" stroke="#000" stroke-width="0.18" vector-effect="non-scaling-stroke"/><text x="313.42" y="173.60" font-size="13.5">0</text><path transform="translate(320.92,167.70) scale(0.003809,-0.003809)" d="M80 470V640H1110V470Z" stroke="#000" stroke-width="0.18" vector-effect="non-scaling-stroke"/><path transform="translate(325.26,167.70) scale(0.003809,-0.003809)" d="M700 0V1237L382 1010V1180L715 1409H881V0Z" stroke="#000" stroke-width="0.18" vector-effect="non-scaling-stroke"/>
<path transform="translate(323.79,122.10) scale(0.006592,-0.006592)" d="M700 0V1237L382 1010V1180L715 1409H881V0Z" stroke="#000" stroke-width="0.18" vector-effect="non-scaling-stroke"/>
<path transform="translate(315.28,71.50) scale(0.006592,-0.006592)" d="M700 0V1237L382 1010V1180L715 1409H881V0Z" stroke="#000" stroke-width="0.18" vector-effect="non-scaling-stroke"/><text x="322.79" y="71.50" font-size="13.5">0</text>
<path transform="translate(310.25,20.90) scale(0.006592,-0.006592)" d="M700 0V1237L382 1010V1180L715 1409H881V0Z" stroke="#000" stroke-width="0.18" vector-effect="non-scaling-stroke"/><text x="317.75" y="20.90" font-size="13.5">0</text><text x="325.26" y="15.00" font-size="7.8">2</text>
<text x="54.5" y="21.4" font-size="10.2" font-weight="bold" font-style="italic">ATLAS</text>
<path d="M54.70 33.40L55.40 33.00L56.70 37.60L58.10 29.20H63.70" stroke="#000" stroke-width="1" fill="none"/>
<text x="58.50" y="37.60" font-size="9.95">s</text><text x="66.24" y="37.60" font-size="9.95">=</text><text x="74.81" y="37.60" font-size="9.95">8</text><text x="83.11 89.19 94.72 101.36" y="37.60" font-size="9.95">TeV,</text><path transform="translate(106.89,37.60) scale(0.004858,-0.004858)" d="M700 0V1237L382 1010V1180L715 1409H881V0Z" stroke="#000" stroke-width="0.18" vector-effect="non-scaling-stroke"/><path transform="translate(112.42,37.60) scale(0.004858,-0.004858)" d="M700 0V1237L382 1010V1180L715 1409H881V0Z" stroke="#000" stroke-width="0.18" vector-effect="non-scaling-stroke"/><text x="117.96 120.72" y="37.60" font-size="9.95">.4</text><text x="129.02 131.78" y="37.60" font-size="9.95">fb</text><text x="137.32" y="33.30" font-size="6.8">-</text><path transform="translate(139.58,33.30) scale(0.003320,-0.003320)" d="M700 0V1237L382 1010V1180L715 1409H881V0Z" stroke="#000" stroke-width="0.18" vector-effect="non-scaling-stroke"/>
<text x="344.2" y="22.5" font-size="10.2" font-weight="bold" font-style="italic">ATLAS</text>
<path d="M344.40 34.50L345.10 34.10L346.40 38.70L347.80 30.30H353.40" stroke="#000" stroke-width="1" fill="none"/>
<text x="348.20" y="38.70" font-size="9.95">s</text><text x="355.94" y="38.70" font-size="9.95">=</text><text x="364.51" y="38.70" font-size="9.95">8</text><text x="372.81 378.89 384.42 391.06" y="38.70" font-size="9.95">TeV,</text><path transform="translate(396.59,38.70) scale(0.004858,-0.004858)" d="M700 0V1237L382 1010V1180L715 1409H881V0Z" stroke="#000" stroke-width="0.18" vector-effect="non-scaling-stroke"/><path transform="translate(402.12,38.70) scale(0.004858,-0.004858)" d="M700 0V1237L382 1010V1180L715 1409H881V0Z" stroke="#000" stroke-width="0.18" vector-effect="non-scaling-stroke"/><text x="407.66 410.42" y="38.70" font-size="9.95">.4</text><text x="418.72 421.48" y="38.70" font-size="9.95">fb</text><text x="427.02" y="34.40" font-size="6.8">-</text><path transform="translate(429.28,34.40) scale(0.003320,-0.003320)" d="M700 0V1237L382 1010V1180L715 1409H881V0Z" stroke="#000" stroke-width="0.18" vector-effect="non-scaling-stroke"/>
<text x="184.50 187.10 192.10 195.43 200.43 203.21" y="20.30" font-size="10">|y(J/ψ</text><text x="210.33" y="24.70" font-size="7.2">2</text><text x="214.34 217.67" y="20.30" font-size="10">)|</text><text x="223.05" y="20.30" font-size="10">&lt;</text><path transform="translate(231.66,20.30) scale(0.004883,-0.004883)" d="M700 0V1237L382 1010V1180L715 1409H881V0Z" stroke="#000" stroke-width="0.18" vector-effect="non-scaling-stroke"/><text x="237.22 240.00 245.56" y="20.30" font-size="10">.05</text>
<circle cx="192.00" cy="30.5" r="2.3" fill="#000"/>
<path d="M185.5 43.8H198.5" stroke="#0000ff" stroke-width="1.5" stroke-dasharray="10 2.5"/>
<path d="M185.5 57.2H198.5" stroke="#ff0000" stroke-width="1.1" stroke-dasharray="3 2"/>
<path d="M185.5 70.8H198.5" stroke="#000" stroke-width="1.6"/>
<path d="M185.5 84.2H198.5" stroke="#ff0000" stroke-width="1.0" stroke-dasharray="1.4 1.3"/>
<text x="201.40" y="32.90" font-size="9.75">Data</text>
<text x="201.40" y="46.80" font-size="9.75">PP Signal</text>
<text x="201.40" y="60.10" font-size="9.75">Pile-up</text>
<text x="201.40" y="73.20" font-size="9.75">Fit</text>
<text x="201.40 203.93" y="86.30" font-size="9.75">|d</text><text x="209.36" y="89.90" font-size="6">z</text><text x="212.36" y="86.30" font-size="9.75">|</text><text x="217.60" y="86.30" font-size="9.75">=</text><path transform="translate(226.00,86.30) scale(0.004761,-0.004761)" d="M700 0V1237L382 1010V1180L715 1409H881V0Z" stroke="#000" stroke-width="0.18" vector-effect="non-scaling-stroke"/><text x="231.42 234.13" y="86.30" font-size="9.75">.2</text><text x="242.26 250.38" y="86.30" font-size="9.75">mm</text>
<path transform="translate(467.60,20.30) scale(0.004883,-0.004883)" d="M700 0V1237L382 1010V1180L715 1409H881V0Z" stroke="#000" stroke-width="0.18" vector-effect="non-scaling-stroke"/><text x="473.16 475.94 481.50" y="20.30" font-size="10">.05</text><text x="489.84" y="20.30" font-size="10">≤</text><text x="498.11 500.71 505.71 509.04 514.04 516.81" y="20.30" font-size="10">|y(J/ψ</text><text x="523.94" y="24.70" font-size="7.2">2</text><text x="527.95 531.28" y="20.30" font-size="10">)|</text><text x="536.65" y="20.30" font-size="10">&lt;</text><text x="545.27 550.83" y="20.30" font-size="10">2.</text><path transform="translate(553.61,20.30) scale(0.004883,-0.004883)" d="M700 0V1237L382 1010V1180L715 1409H881V0Z" stroke="#000" stroke-width="0.18" vector-effect="non-scaling-stroke"/>
<circle cx="474.50" cy="30.5" r="2.3" fill="#000"/>
<path d="M468.0 43.8H481.0" stroke="#0000ff" stroke-width="1.5" stroke-dasharray="10 2.5"/>
<path d="M468.0 57.2H481.0" stroke="#ff0000" stroke-width="1.1" stroke-dasharray="3 2"/>
<path d="M468.0 70.8H481.0" stroke="#000" stroke-width="1.6"/>
<path d="M468.0 84.2H481.0" stroke="#ff0000" stroke-width="1.0" stroke-dasharray="1.4 1.3"/>
<text x="485.60" y="32.90" font-size="9.75">Data</text>
<text x="485.60" y="46.80" font-size="9.75">PP Signal</text>
<text x="485.60" y="60.10" font-size="9.75">Pile-up</text>
<text x="485.60" y="73.20" font-size="9.75">Fit</text>
<text x="485.60 488.13" y="86.30" font-size="9.75">|d</text><text x="493.56" y="89.90" font-size="6">z</text><text x="496.56" y="86.30" font-size="9.75">|</text><text x="501.80" y="86.30" font-size="9.75">=</text><path transform="translate(510.20,86.30) scale(0.004761,-0.004761)" d="M700 0V1237L382 1010V1180L715 1409H881V0Z" stroke="#000" stroke-width="0.18" vector-effect="non-scaling-stroke"/><text x="515.62 518.33" y="86.30" font-size="9.75">.2</text><text x="526.46 534.58" y="86.30" font-size="9.75">mm</text>
<text transform="translate(12.2,50.3) rotate(-90)" text-anchor="middle" font-size="13.4">Entries / 0.5 mm</text>
<text x="271.3" y="260.1" text-anchor="end" font-size="13">d<tspan font-size="9" dy="3">z</tspan><tspan dy="-3"> [mm]</tspan></text>
<text transform="translate(302.2,50.3) rotate(-90)" text-anchor="middle" font-size="13.4">Entries / 0.5 mm</text>
<text x="561.3" y="260.1" text-anchor="end" font-size="13">d<tspan font-size="9" dy="3">z</tspan><tspan dy="-3"> [mm]</tspan></text>
<text x="144" y="285.5" text-anchor="middle" font-size="15.8" font-family="'Liberation Serif', serif" font-weight="bold">(a)</text>
<text x="434.5" y="285.5" text-anchor="middle" font-size="15.8" font-family="'Liberation Serif', serif" font-weight="bold">(b)</text>
</svg></body></html>
